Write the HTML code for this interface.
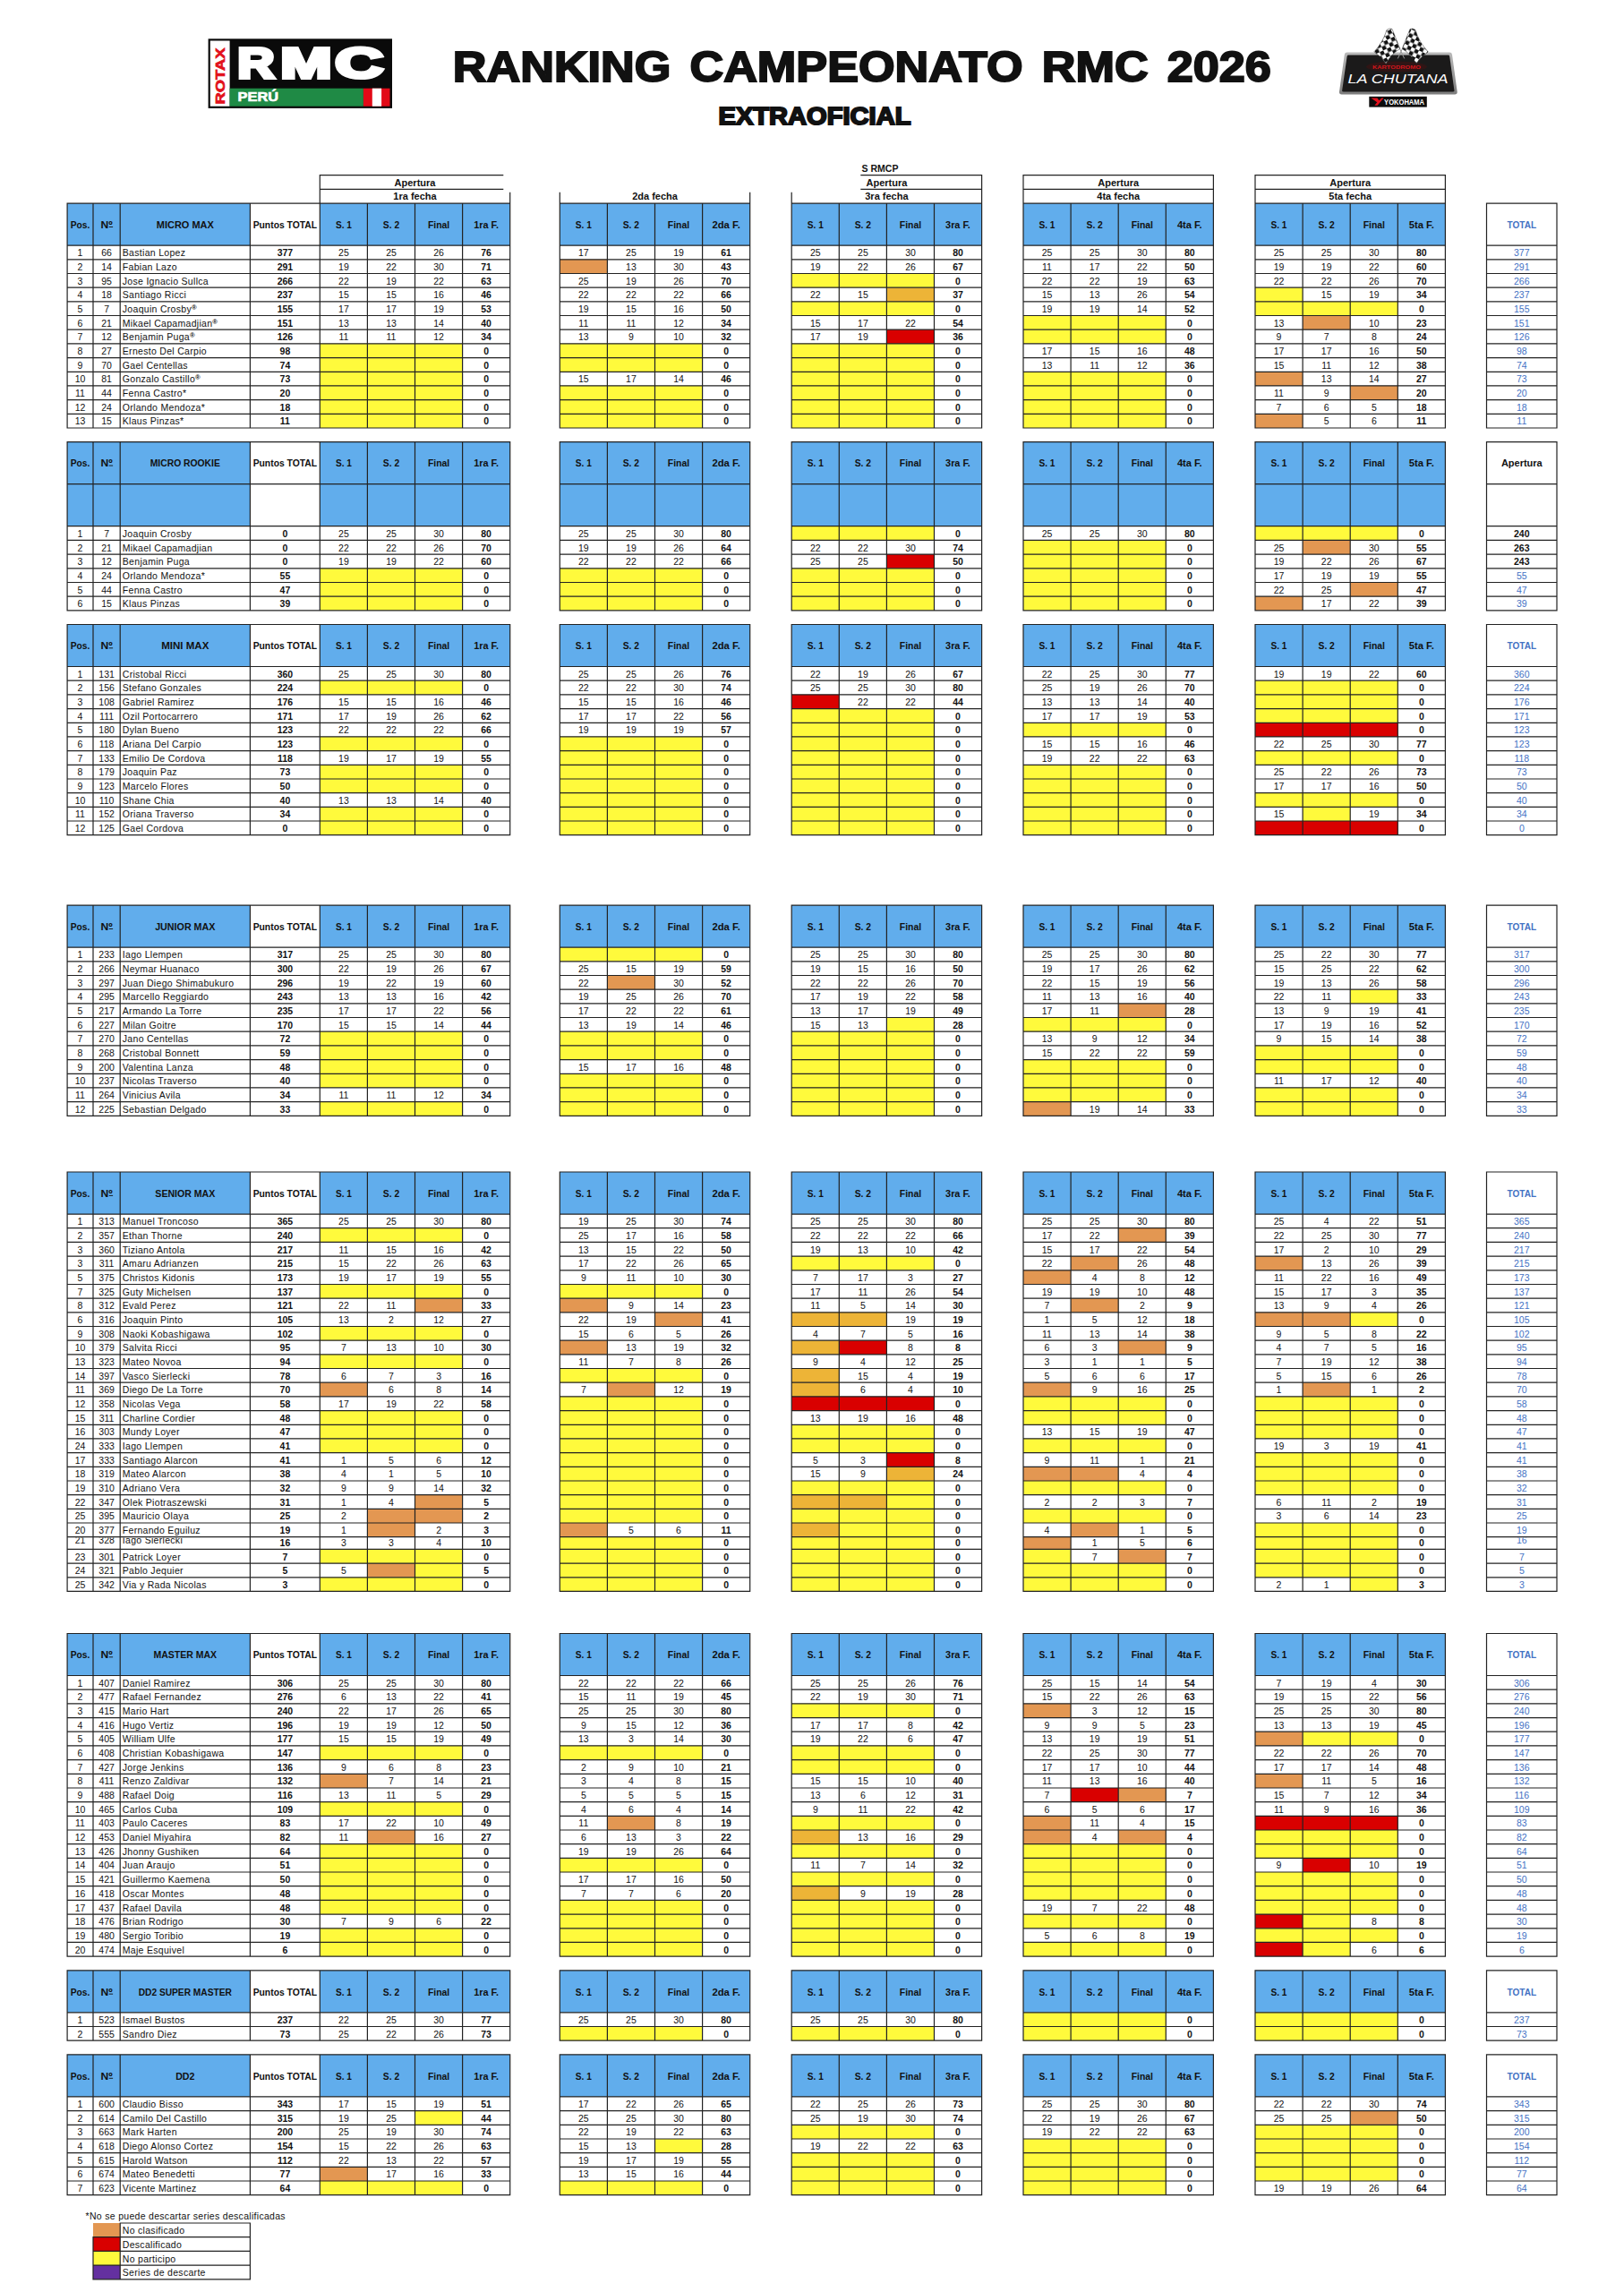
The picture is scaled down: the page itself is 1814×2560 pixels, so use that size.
<!DOCTYPE html>
<html lang="es"><head><meta charset="utf-8"><title>Ranking Campeonato RMC 2026</title>
<style>
html,body{margin:0;padding:0;background:#fff}
svg{display:block;font-family:"Liberation Sans",sans-serif}
text{font-size:10.5px;text-anchor:middle;fill:#111}
.nl text,.nlc text,.lbl text{text-anchor:start}
.nl text,.nlc text{letter-spacing:.3px}
.b text,.hb text,.hu text,.ht text,.lb text,.lbl text{font-weight:bold}
.hu text{font-size:10.8px}
.hb text,.ht text{font-size:11px}
.lb text{font-size:11px}
.lbl text{font-size:10.5px}
.t text,.tc text,.ht text{fill:#4472c4}
text.rmc{font-size:47.4px;font-weight:bold;fill:#fff;stroke:#fff;stroke-width:4px}
.rg{font-size:7.6px;font-weight:bold;letter-spacing:0}
</style></head>
<body>
<svg width="1814" height="2560" viewBox="0 0 1814 2560">
<defs><clipPath id="cs"><rect x="0" y="1717.4" width="1814" height="13.7"/></clipPath></defs>
<g id="title">
<text x="962.8" y="90.9" style="font-size:47.6px;font-weight:bold;stroke:#111;stroke-width:2px;word-spacing:6px" textLength="914" lengthAdjust="spacingAndGlyphs">RANKING CAMPEONATO RMC 2026</text>
<text x="910" y="139.2" style="font-size:27.2px;font-weight:bold;stroke:#111;stroke-width:2px" textLength="215" lengthAdjust="spacingAndGlyphs">EXTRAOFICIAL</text>
</g>
<g id="logo-rmc">
<rect x="232.6" y="43.3" width="205.4" height="77.6" fill="#0a0a0a"/>
<rect x="234.8" y="45.5" width="21.8" height="73.2" fill="#fff"/>
<rect x="256.6" y="98.7" width="149.3" height="20" fill="#1f8a45"/>
<rect x="405.9" y="98.7" width="29.6" height="20" fill="#e20a17"/>
<rect x="415.8" y="98.7" width="10.3" height="20" fill="#fff"/>
<text class="rmc" y="87.1"><tspan x="286" textLength="41.4" lengthAdjust="spacingAndGlyphs">R</tspan><tspan x="342" textLength="57.3" lengthAdjust="spacingAndGlyphs">M</tspan><tspan x="401.1" textLength="53.9" lengthAdjust="spacingAndGlyphs">C</tspan></text>
<text x="288.3" y="113.3" style="font-size:14.2px;font-weight:bold;fill:#fff;stroke:#fff;stroke-width:.6px" textLength="45.4" lengthAdjust="spacingAndGlyphs">PERÚ</text>
<text transform="translate(251.3 85) rotate(-90)" x="0" y="0" style="font-size:14.8px;font-weight:bold;fill:#e2101c;stroke:#e2101c;stroke-width:.7px" textLength="63" lengthAdjust="spacingAndGlyphs">ROTAX</text>
</g>
<g id="logo-chutana">
<defs>
<pattern id="chk" width="8.8" height="8.8" patternUnits="userSpaceOnUse" patternTransform="translate(1553.4 32.9) rotate(64.6)"><rect width="8.8" height="8.8" fill="#fff"/><rect width="4.4" height="4.4" fill="#111"/><rect x="4.4" y="4.4" width="4.4" height="4.4" fill="#111"/></pattern>
<pattern id="chk2" width="8.8" height="8.8" patternUnits="userSpaceOnUse" patternTransform="translate(1576.6 32.9) rotate(-64.6)"><rect width="8.8" height="8.8" fill="#fff"/><rect width="4.4" height="4.4" fill="#111"/><rect x="4.4" y="4.4" width="4.4" height="4.4" fill="#111"/></pattern>
<linearGradient id="plt" x1="0" y1="0" x2="0" y2="1"><stop offset="0" stop-color="#b9b9b9"/><stop offset="1" stop-color="#7d7d7d"/></linearGradient>
</defs>
<path d="M1504.6 58.6H1619.2Q1621.6 58.6 1622 61L1627.7 102.4Q1628 105.4 1625 105.4H1498.6Q1495.6 105.4 1496 102.4L1501.8 61Q1502.2 58.6 1504.6 58.6Z" fill="url(#plt)"/>
<path d="M1506.2 61.6H1617.6Q1619 61.6 1619.2 63L1624.4 100.8Q1624.6 102.6 1622.8 102.6H1500.8Q1499 102.6 1499.2 100.8L1504.6 63Q1504.8 61.6 1506.2 61.6Z" fill="#1b1a1a"/>
<ellipse cx="1560" cy="74.5" rx="34" ry="6" fill="#5a0d0d" opacity=".35"/>
<text x="1560" y="76.8" style="font-size:6.2px;font-weight:bold;fill:#d3161c" textLength="54" lengthAdjust="spacingAndGlyphs">KARTODROMO</text>
<text x="1561.5" y="93" style="font-size:13.8px;font-style:italic;fill:#fff" textLength="112" lengthAdjust="spacingAndGlyphs">LA CHUTANA</text>
<path d="M1553.4 32.9L1568.7 65.4M1576.6 32.9L1561.3 65.4" stroke="#9a9a9a" stroke-width="1" fill="none"/>
<path d="M1549 33.4Q1552 31 1555 32.4L1563.8 54.4Q1554 60 1548 71.3Q1543 63 1534.8 58Q1545 47 1549 33.4Z" fill="url(#chk)" stroke="#333" stroke-width=".5"/>
<path d="M1581 33.4Q1578 31 1575 32.4L1566.2 54.4Q1576 60 1582 71.3Q1587 63 1595.2 58Q1585 47 1581 33.4Z" fill="url(#chk2)" stroke="#333" stroke-width=".5"/>
<rect x="1529.3" y="107.8" width="64.5" height="11.8" fill="#0c0c0c"/>
<path d="M1531.4 109.6H1538.4L1540.4 112.2L1543.2 109.6H1545.6L1538.6 117.8H1535.4L1538.2 114.2Z" fill="#e2101c"/>
<text x="1568.6" y="117" style="font-size:9.4px;font-weight:bold;fill:#fff" textLength="45" lengthAdjust="spacingAndGlyphs">YOKOHAMA</text>
</g>
<g>
<rect x="75.1" y="227.1" width="204.3" height="47" fill="#61adec"/>
<rect x="357.3" y="227.1" width="212.4" height="47" fill="#61adec"/>
<rect x="625.3" y="227.1" width="212.4" height="47" fill="#61adec"/>
<rect x="884.2" y="227.1" width="212.4" height="47" fill="#61adec"/>
<rect x="1143" y="227.1" width="212.4" height="47" fill="#61adec"/>
<rect x="1402" y="227.1" width="212.4" height="47" fill="#61adec"/>
<rect x="121.7" y="253" width="4.4" height="0.9" fill="#111"/>
<rect x="625.3" y="289.8" width="53.1" height="15.7" fill="#e39752"/>
<rect x="884.2" y="305.5" width="159.3" height="15.7" fill="#fffa3c"/>
<rect x="990.4" y="321.2" width="53.1" height="15.7" fill="#edb437"/>
<rect x="1402" y="321.2" width="53.1" height="15.7" fill="#fffa3c"/>
<rect x="884.2" y="336.9" width="159.3" height="15.7" fill="#fffa3c"/>
<rect x="1402" y="336.9" width="159.3" height="15.7" fill="#fffa3c"/>
<rect x="1143" y="352.5" width="159.3" height="15.7" fill="#fffa3c"/>
<rect x="1455.1" y="352.5" width="53.1" height="15.7" fill="#e39752"/>
<rect x="990.4" y="368.2" width="53.1" height="15.7" fill="#d90000"/>
<rect x="1143" y="368.2" width="159.3" height="15.7" fill="#fffa3c"/>
<rect x="357.3" y="383.9" width="159.3" height="15.7" fill="#fffa3c"/>
<rect x="625.3" y="383.9" width="159.3" height="15.7" fill="#fffa3c"/>
<rect x="884.2" y="383.9" width="159.3" height="15.7" fill="#fffa3c"/>
<rect x="357.3" y="399.6" width="159.3" height="15.7" fill="#fffa3c"/>
<rect x="625.3" y="399.6" width="159.3" height="15.7" fill="#fffa3c"/>
<rect x="884.2" y="399.6" width="159.3" height="15.7" fill="#fffa3c"/>
<rect x="357.3" y="415.3" width="159.3" height="15.7" fill="#fffa3c"/>
<rect x="884.2" y="415.3" width="159.3" height="15.7" fill="#fffa3c"/>
<rect x="1143" y="415.3" width="159.3" height="15.7" fill="#fffa3c"/>
<rect x="1402" y="415.3" width="53.1" height="15.7" fill="#e39752"/>
<rect x="357.3" y="430.9" width="159.3" height="15.7" fill="#fffa3c"/>
<rect x="625.3" y="430.9" width="159.3" height="15.7" fill="#fffa3c"/>
<rect x="884.2" y="430.9" width="159.3" height="15.7" fill="#fffa3c"/>
<rect x="1143" y="430.9" width="159.3" height="15.7" fill="#fffa3c"/>
<rect x="1508.2" y="430.9" width="53.1" height="15.7" fill="#e39752"/>
<rect x="357.3" y="446.6" width="159.3" height="15.7" fill="#fffa3c"/>
<rect x="625.3" y="446.6" width="159.3" height="15.7" fill="#fffa3c"/>
<rect x="884.2" y="446.6" width="159.3" height="15.7" fill="#fffa3c"/>
<rect x="1143" y="446.6" width="159.3" height="15.7" fill="#fffa3c"/>
<rect x="357.3" y="462.3" width="159.3" height="15.7" fill="#fffa3c"/>
<rect x="625.3" y="462.3" width="159.3" height="15.7" fill="#fffa3c"/>
<rect x="884.2" y="462.3" width="159.3" height="15.7" fill="#fffa3c"/>
<rect x="1143" y="462.3" width="159.3" height="15.7" fill="#fffa3c"/>
<rect x="1402" y="462.3" width="53.1" height="15.7" fill="#e39752"/>
<rect x="75.1" y="493.7" width="204.3" height="94.1" fill="#61adec"/>
<rect x="357.3" y="493.7" width="212.4" height="94.1" fill="#61adec"/>
<rect x="625.3" y="493.7" width="212.4" height="94.1" fill="#61adec"/>
<rect x="884.2" y="493.7" width="212.4" height="94.1" fill="#61adec"/>
<rect x="1143" y="493.7" width="212.4" height="94.1" fill="#61adec"/>
<rect x="1402" y="493.7" width="212.4" height="94.1" fill="#61adec"/>
<rect x="121.7" y="519.6" width="4.4" height="0.9" fill="#111"/>
<rect x="884.2" y="587.7" width="159.3" height="15.7" fill="#fffa3c"/>
<rect x="1402" y="587.7" width="159.3" height="15.7" fill="#fffa3c"/>
<rect x="1143" y="603.4" width="159.3" height="15.7" fill="#fffa3c"/>
<rect x="1455.1" y="603.4" width="53.1" height="15.7" fill="#e39752"/>
<rect x="990.4" y="619.1" width="53.1" height="15.7" fill="#d90000"/>
<rect x="1143" y="619.1" width="159.3" height="15.7" fill="#fffa3c"/>
<rect x="357.3" y="634.8" width="159.3" height="15.7" fill="#fffa3c"/>
<rect x="625.3" y="634.8" width="159.3" height="15.7" fill="#fffa3c"/>
<rect x="884.2" y="634.8" width="159.3" height="15.7" fill="#fffa3c"/>
<rect x="1143" y="634.8" width="159.3" height="15.7" fill="#fffa3c"/>
<rect x="357.3" y="650.5" width="159.3" height="15.7" fill="#fffa3c"/>
<rect x="625.3" y="650.5" width="159.3" height="15.7" fill="#fffa3c"/>
<rect x="884.2" y="650.5" width="159.3" height="15.7" fill="#fffa3c"/>
<rect x="1143" y="650.5" width="159.3" height="15.7" fill="#fffa3c"/>
<rect x="1508.2" y="650.5" width="53.1" height="15.7" fill="#e39752"/>
<rect x="357.3" y="666.1" width="159.3" height="15.7" fill="#fffa3c"/>
<rect x="625.3" y="666.1" width="159.3" height="15.7" fill="#fffa3c"/>
<rect x="884.2" y="666.1" width="159.3" height="15.7" fill="#fffa3c"/>
<rect x="1143" y="666.1" width="159.3" height="15.7" fill="#fffa3c"/>
<rect x="1402" y="666.1" width="53.1" height="15.7" fill="#e39752"/>
<rect x="75.1" y="697.5" width="204.3" height="47" fill="#61adec"/>
<rect x="357.3" y="697.5" width="212.4" height="47" fill="#61adec"/>
<rect x="625.3" y="697.5" width="212.4" height="47" fill="#61adec"/>
<rect x="884.2" y="697.5" width="212.4" height="47" fill="#61adec"/>
<rect x="1143" y="697.5" width="212.4" height="47" fill="#61adec"/>
<rect x="1402" y="697.5" width="212.4" height="47" fill="#61adec"/>
<rect x="121.7" y="723.4" width="4.4" height="0.9" fill="#111"/>
<rect x="357.3" y="760.2" width="159.3" height="15.7" fill="#fffa3c"/>
<rect x="1402" y="760.2" width="159.3" height="15.7" fill="#fffa3c"/>
<rect x="884.2" y="775.9" width="53.1" height="15.7" fill="#d90000"/>
<rect x="1402" y="775.9" width="159.3" height="15.7" fill="#fffa3c"/>
<rect x="884.2" y="791.6" width="159.3" height="15.7" fill="#fffa3c"/>
<rect x="1402" y="791.6" width="159.3" height="15.7" fill="#fffa3c"/>
<rect x="884.2" y="807.3" width="159.3" height="15.7" fill="#fffa3c"/>
<rect x="1143" y="807.3" width="159.3" height="15.7" fill="#fffa3c"/>
<rect x="1402" y="807.3" width="159.3" height="15.7" fill="#d90000"/>
<rect x="357.3" y="822.9" width="159.3" height="15.7" fill="#fffa3c"/>
<rect x="625.3" y="822.9" width="159.3" height="15.7" fill="#fffa3c"/>
<rect x="884.2" y="822.9" width="159.3" height="15.7" fill="#fffa3c"/>
<rect x="625.3" y="838.6" width="159.3" height="15.7" fill="#fffa3c"/>
<rect x="884.2" y="838.6" width="159.3" height="15.7" fill="#fffa3c"/>
<rect x="1402" y="838.6" width="159.3" height="15.7" fill="#fffa3c"/>
<rect x="357.3" y="854.3" width="159.3" height="15.7" fill="#fffa3c"/>
<rect x="625.3" y="854.3" width="159.3" height="15.7" fill="#fffa3c"/>
<rect x="884.2" y="854.3" width="159.3" height="15.7" fill="#fffa3c"/>
<rect x="1143" y="854.3" width="159.3" height="15.7" fill="#fffa3c"/>
<rect x="357.3" y="870" width="159.3" height="15.7" fill="#fffa3c"/>
<rect x="625.3" y="870" width="159.3" height="15.7" fill="#fffa3c"/>
<rect x="884.2" y="870" width="159.3" height="15.7" fill="#fffa3c"/>
<rect x="1143" y="870" width="159.3" height="15.7" fill="#fffa3c"/>
<rect x="625.3" y="885.7" width="159.3" height="15.7" fill="#fffa3c"/>
<rect x="884.2" y="885.7" width="159.3" height="15.7" fill="#fffa3c"/>
<rect x="1143" y="885.7" width="159.3" height="15.7" fill="#fffa3c"/>
<rect x="1402" y="885.7" width="159.3" height="15.7" fill="#fffa3c"/>
<rect x="357.3" y="901.3" width="159.3" height="15.7" fill="#fffa3c"/>
<rect x="625.3" y="901.3" width="159.3" height="15.7" fill="#fffa3c"/>
<rect x="884.2" y="901.3" width="159.3" height="15.7" fill="#fffa3c"/>
<rect x="1143" y="901.3" width="159.3" height="15.7" fill="#fffa3c"/>
<rect x="1455.1" y="901.3" width="53.1" height="15.7" fill="#fffa3c"/>
<rect x="357.3" y="917" width="159.3" height="15.7" fill="#fffa3c"/>
<rect x="625.3" y="917" width="159.3" height="15.7" fill="#fffa3c"/>
<rect x="884.2" y="917" width="159.3" height="15.7" fill="#fffa3c"/>
<rect x="1143" y="917" width="159.3" height="15.7" fill="#fffa3c"/>
<rect x="1402" y="917" width="159.3" height="15.7" fill="#d90000"/>
<rect x="75.1" y="1011.1" width="204.3" height="47" fill="#61adec"/>
<rect x="357.3" y="1011.1" width="212.4" height="47" fill="#61adec"/>
<rect x="625.3" y="1011.1" width="212.4" height="47" fill="#61adec"/>
<rect x="884.2" y="1011.1" width="212.4" height="47" fill="#61adec"/>
<rect x="1143" y="1011.1" width="212.4" height="47" fill="#61adec"/>
<rect x="1402" y="1011.1" width="212.4" height="47" fill="#61adec"/>
<rect x="121.7" y="1037" width="4.4" height="0.9" fill="#111"/>
<rect x="625.3" y="1058.1" width="159.3" height="15.7" fill="#fffa3c"/>
<rect x="678.4" y="1089.5" width="53.1" height="15.7" fill="#e39752"/>
<rect x="1508.2" y="1105.2" width="53.1" height="15.7" fill="#fffa3c"/>
<rect x="1249.2" y="1120.9" width="53.1" height="15.7" fill="#e39752"/>
<rect x="990.4" y="1136.5" width="53.1" height="15.7" fill="#fffa3c"/>
<rect x="1143" y="1136.5" width="159.3" height="15.7" fill="#fffa3c"/>
<rect x="357.3" y="1152.2" width="159.3" height="15.7" fill="#fffa3c"/>
<rect x="625.3" y="1152.2" width="159.3" height="15.7" fill="#fffa3c"/>
<rect x="884.2" y="1152.2" width="159.3" height="15.7" fill="#fffa3c"/>
<rect x="357.3" y="1167.9" width="159.3" height="15.7" fill="#fffa3c"/>
<rect x="625.3" y="1167.9" width="159.3" height="15.7" fill="#fffa3c"/>
<rect x="884.2" y="1167.9" width="159.3" height="15.7" fill="#fffa3c"/>
<rect x="1402" y="1167.9" width="159.3" height="15.7" fill="#fffa3c"/>
<rect x="357.3" y="1183.6" width="159.3" height="15.7" fill="#fffa3c"/>
<rect x="884.2" y="1183.6" width="159.3" height="15.7" fill="#fffa3c"/>
<rect x="1143" y="1183.6" width="159.3" height="15.7" fill="#fffa3c"/>
<rect x="1402" y="1183.6" width="159.3" height="15.7" fill="#fffa3c"/>
<rect x="357.3" y="1199.3" width="159.3" height="15.7" fill="#fffa3c"/>
<rect x="625.3" y="1199.3" width="159.3" height="15.7" fill="#fffa3c"/>
<rect x="884.2" y="1199.3" width="159.3" height="15.7" fill="#fffa3c"/>
<rect x="1143" y="1199.3" width="159.3" height="15.7" fill="#fffa3c"/>
<rect x="625.3" y="1214.9" width="159.3" height="15.7" fill="#fffa3c"/>
<rect x="884.2" y="1214.9" width="159.3" height="15.7" fill="#fffa3c"/>
<rect x="1143" y="1214.9" width="159.3" height="15.7" fill="#fffa3c"/>
<rect x="1402" y="1214.9" width="159.3" height="15.7" fill="#fffa3c"/>
<rect x="357.3" y="1230.6" width="159.3" height="15.7" fill="#fffa3c"/>
<rect x="625.3" y="1230.6" width="159.3" height="15.7" fill="#fffa3c"/>
<rect x="884.2" y="1230.6" width="159.3" height="15.7" fill="#fffa3c"/>
<rect x="1143" y="1230.6" width="53.1" height="15.7" fill="#e39752"/>
<rect x="1402" y="1230.6" width="159.3" height="15.7" fill="#fffa3c"/>
<rect x="75.1" y="1309" width="204.3" height="47" fill="#61adec"/>
<rect x="357.3" y="1309" width="212.4" height="47" fill="#61adec"/>
<rect x="625.3" y="1309" width="212.4" height="47" fill="#61adec"/>
<rect x="884.2" y="1309" width="212.4" height="47" fill="#61adec"/>
<rect x="1143" y="1309" width="212.4" height="47" fill="#61adec"/>
<rect x="1402" y="1309" width="212.4" height="47" fill="#61adec"/>
<rect x="121.7" y="1334.9" width="4.4" height="0.9" fill="#111"/>
<rect x="357.3" y="1371.7" width="159.3" height="15.7" fill="#fffa3c"/>
<rect x="1249.2" y="1371.7" width="53.1" height="15.7" fill="#e39752"/>
<rect x="884.2" y="1403.1" width="159.3" height="15.7" fill="#fffa3c"/>
<rect x="1196.1" y="1403.1" width="53.1" height="15.7" fill="#e39752"/>
<rect x="1402" y="1403.1" width="53.1" height="15.7" fill="#e39752"/>
<rect x="1143" y="1418.8" width="53.1" height="15.7" fill="#e39752"/>
<rect x="357.3" y="1434.5" width="159.3" height="15.7" fill="#fffa3c"/>
<rect x="625.3" y="1434.5" width="159.3" height="15.7" fill="#fffa3c"/>
<rect x="463.5" y="1450.1" width="53.1" height="15.7" fill="#e39752"/>
<rect x="625.3" y="1450.1" width="53.1" height="15.7" fill="#e39752"/>
<rect x="1196.1" y="1450.1" width="53.1" height="15.7" fill="#e39752"/>
<rect x="731.5" y="1465.8" width="53.1" height="15.7" fill="#e39752"/>
<rect x="884.2" y="1465.8" width="106.2" height="15.7" fill="#edb437"/>
<rect x="1402" y="1465.8" width="106.2" height="15.7" fill="#e39752"/>
<rect x="1508.2" y="1465.8" width="53.1" height="15.7" fill="#fffa3c"/>
<rect x="357.3" y="1481.5" width="159.3" height="15.7" fill="#fffa3c"/>
<rect x="625.3" y="1497.2" width="53.1" height="15.7" fill="#e39752"/>
<rect x="884.2" y="1497.2" width="53.1" height="15.7" fill="#edb437"/>
<rect x="937.3" y="1497.2" width="53.1" height="15.7" fill="#d90000"/>
<rect x="1249.2" y="1497.2" width="53.1" height="15.7" fill="#e39752"/>
<rect x="357.3" y="1512.9" width="159.3" height="15.7" fill="#fffa3c"/>
<rect x="625.3" y="1528.5" width="159.3" height="15.7" fill="#fffa3c"/>
<rect x="884.2" y="1528.5" width="53.1" height="15.7" fill="#edb437"/>
<rect x="357.3" y="1544.2" width="53.1" height="15.7" fill="#e39752"/>
<rect x="678.4" y="1544.2" width="53.1" height="15.7" fill="#e39752"/>
<rect x="884.2" y="1544.2" width="53.1" height="15.7" fill="#edb437"/>
<rect x="1143" y="1544.2" width="53.1" height="15.7" fill="#e39752"/>
<rect x="1455.1" y="1544.2" width="53.1" height="15.7" fill="#e39752"/>
<rect x="625.3" y="1559.9" width="159.3" height="15.7" fill="#fffa3c"/>
<rect x="884.2" y="1559.9" width="159.3" height="15.7" fill="#d90000"/>
<rect x="1143" y="1559.9" width="159.3" height="15.7" fill="#fffa3c"/>
<rect x="1402" y="1559.9" width="159.3" height="15.7" fill="#fffa3c"/>
<rect x="357.3" y="1575.6" width="159.3" height="15.7" fill="#fffa3c"/>
<rect x="625.3" y="1575.6" width="159.3" height="15.7" fill="#fffa3c"/>
<rect x="1143" y="1575.6" width="159.3" height="15.7" fill="#fffa3c"/>
<rect x="1402" y="1575.6" width="159.3" height="15.7" fill="#fffa3c"/>
<rect x="357.3" y="1591.3" width="159.3" height="15.7" fill="#fffa3c"/>
<rect x="625.3" y="1591.3" width="159.3" height="15.7" fill="#fffa3c"/>
<rect x="884.2" y="1591.3" width="159.3" height="15.7" fill="#fffa3c"/>
<rect x="1402" y="1591.3" width="159.3" height="15.7" fill="#fffa3c"/>
<rect x="357.3" y="1606.9" width="159.3" height="15.7" fill="#fffa3c"/>
<rect x="625.3" y="1606.9" width="159.3" height="15.7" fill="#fffa3c"/>
<rect x="884.2" y="1606.9" width="159.3" height="15.7" fill="#fffa3c"/>
<rect x="1143" y="1606.9" width="159.3" height="15.7" fill="#fffa3c"/>
<rect x="625.3" y="1622.6" width="159.3" height="15.7" fill="#fffa3c"/>
<rect x="990.4" y="1622.6" width="53.1" height="15.7" fill="#d90000"/>
<rect x="1402" y="1622.6" width="159.3" height="15.7" fill="#fffa3c"/>
<rect x="625.3" y="1638.3" width="159.3" height="15.7" fill="#fffa3c"/>
<rect x="990.4" y="1638.3" width="53.1" height="15.7" fill="#edb437"/>
<rect x="1143" y="1638.3" width="106.2" height="15.7" fill="#e39752"/>
<rect x="1402" y="1638.3" width="159.3" height="15.7" fill="#fffa3c"/>
<rect x="625.3" y="1654" width="159.3" height="15.7" fill="#fffa3c"/>
<rect x="884.2" y="1654" width="159.3" height="15.7" fill="#fffa3c"/>
<rect x="1143" y="1654" width="159.3" height="15.7" fill="#fffa3c"/>
<rect x="1402" y="1654" width="159.3" height="15.7" fill="#fffa3c"/>
<rect x="463.5" y="1669.7" width="53.1" height="15.7" fill="#e39752"/>
<rect x="625.3" y="1669.7" width="159.3" height="15.7" fill="#fffa3c"/>
<rect x="884.2" y="1669.7" width="106.2" height="15.7" fill="#edb437"/>
<rect x="990.4" y="1669.7" width="53.1" height="15.7" fill="#fffa3c"/>
<rect x="410.4" y="1685.3" width="106.2" height="15.7" fill="#e39752"/>
<rect x="625.3" y="1685.3" width="159.3" height="15.7" fill="#fffa3c"/>
<rect x="884.2" y="1685.3" width="159.3" height="15.7" fill="#fffa3c"/>
<rect x="1143" y="1685.3" width="159.3" height="15.7" fill="#fffa3c"/>
<rect x="410.4" y="1701" width="53.1" height="15.7" fill="#e39752"/>
<rect x="625.3" y="1701" width="53.1" height="15.7" fill="#e39752"/>
<rect x="884.2" y="1701" width="53.1" height="15.7" fill="#edb437"/>
<rect x="937.3" y="1701" width="106.2" height="15.7" fill="#fffa3c"/>
<rect x="1196.1" y="1701" width="53.1" height="15.7" fill="#e39752"/>
<rect x="1402" y="1701" width="159.3" height="15.7" fill="#fffa3c"/>
<rect x="625.3" y="1716.7" width="159.3" height="13.7" fill="#fffa3c"/>
<rect x="884.2" y="1716.7" width="159.3" height="13.7" fill="#fffa3c"/>
<rect x="1143" y="1716.7" width="53.1" height="13.7" fill="#e39752"/>
<rect x="1402" y="1716.7" width="159.3" height="13.7" fill="#fffa3c"/>
<rect x="357.3" y="1730.4" width="159.3" height="15.7" fill="#fffa3c"/>
<rect x="625.3" y="1730.4" width="159.3" height="15.7" fill="#fffa3c"/>
<rect x="884.2" y="1730.4" width="159.3" height="15.7" fill="#fffa3c"/>
<rect x="1143" y="1730.4" width="53.1" height="15.7" fill="#fffa3c"/>
<rect x="1249.2" y="1730.4" width="53.1" height="15.7" fill="#e39752"/>
<rect x="1402" y="1730.4" width="159.3" height="15.7" fill="#fffa3c"/>
<rect x="410.4" y="1746.1" width="53.1" height="15.7" fill="#e39752"/>
<rect x="463.5" y="1746.1" width="53.1" height="15.7" fill="#fffa3c"/>
<rect x="625.3" y="1746.1" width="159.3" height="15.7" fill="#fffa3c"/>
<rect x="884.2" y="1746.1" width="159.3" height="15.7" fill="#fffa3c"/>
<rect x="1143" y="1746.1" width="159.3" height="15.7" fill="#fffa3c"/>
<rect x="1402" y="1746.1" width="159.3" height="15.7" fill="#fffa3c"/>
<rect x="357.3" y="1761.8" width="159.3" height="15.7" fill="#fffa3c"/>
<rect x="625.3" y="1761.8" width="159.3" height="15.7" fill="#fffa3c"/>
<rect x="884.2" y="1761.8" width="159.3" height="15.7" fill="#fffa3c"/>
<rect x="1143" y="1761.8" width="159.3" height="15.7" fill="#fffa3c"/>
<rect x="1508.2" y="1761.8" width="53.1" height="15.7" fill="#fffa3c"/>
<rect x="75.1" y="1824.5" width="204.3" height="47" fill="#61adec"/>
<rect x="357.3" y="1824.5" width="212.4" height="47" fill="#61adec"/>
<rect x="625.3" y="1824.5" width="212.4" height="47" fill="#61adec"/>
<rect x="884.2" y="1824.5" width="212.4" height="47" fill="#61adec"/>
<rect x="1143" y="1824.5" width="212.4" height="47" fill="#61adec"/>
<rect x="1402" y="1824.5" width="212.4" height="47" fill="#61adec"/>
<rect x="121.7" y="1850.4" width="4.4" height="0.9" fill="#111"/>
<rect x="884.2" y="1902.9" width="159.3" height="15.7" fill="#fffa3c"/>
<rect x="1143" y="1902.9" width="53.1" height="15.7" fill="#e39752"/>
<rect x="1402" y="1934.2" width="53.1" height="15.7" fill="#e39752"/>
<rect x="1455.1" y="1934.2" width="106.2" height="15.7" fill="#fffa3c"/>
<rect x="357.3" y="1949.9" width="159.3" height="15.7" fill="#fffa3c"/>
<rect x="625.3" y="1949.9" width="159.3" height="15.7" fill="#fffa3c"/>
<rect x="884.2" y="1949.9" width="159.3" height="15.7" fill="#fffa3c"/>
<rect x="884.2" y="1965.6" width="159.3" height="15.7" fill="#fffa3c"/>
<rect x="357.3" y="1981.3" width="53.1" height="15.7" fill="#e39752"/>
<rect x="1402" y="1981.3" width="53.1" height="15.7" fill="#e39752"/>
<rect x="1196.1" y="1997" width="53.1" height="15.7" fill="#d90000"/>
<rect x="1249.2" y="1997" width="53.1" height="15.7" fill="#e39752"/>
<rect x="357.3" y="2012.6" width="159.3" height="15.7" fill="#fffa3c"/>
<rect x="678.4" y="2028.3" width="53.1" height="15.7" fill="#e39752"/>
<rect x="884.2" y="2028.3" width="159.3" height="15.7" fill="#fffa3c"/>
<rect x="1143" y="2028.3" width="53.1" height="15.7" fill="#e39752"/>
<rect x="1402" y="2028.3" width="159.3" height="15.7" fill="#d90000"/>
<rect x="410.4" y="2044" width="53.1" height="15.7" fill="#e39752"/>
<rect x="884.2" y="2044" width="53.1" height="15.7" fill="#edb437"/>
<rect x="1143" y="2044" width="53.1" height="15.7" fill="#e39752"/>
<rect x="1249.2" y="2044" width="53.1" height="15.7" fill="#e39752"/>
<rect x="1402" y="2044" width="159.3" height="15.7" fill="#fffa3c"/>
<rect x="357.3" y="2059.7" width="159.3" height="15.7" fill="#fffa3c"/>
<rect x="884.2" y="2059.7" width="159.3" height="15.7" fill="#fffa3c"/>
<rect x="1143" y="2059.7" width="159.3" height="15.7" fill="#fffa3c"/>
<rect x="1402" y="2059.7" width="159.3" height="15.7" fill="#fffa3c"/>
<rect x="357.3" y="2075.4" width="159.3" height="15.7" fill="#fffa3c"/>
<rect x="625.3" y="2075.4" width="159.3" height="15.7" fill="#fffa3c"/>
<rect x="1143" y="2075.4" width="159.3" height="15.7" fill="#fffa3c"/>
<rect x="1455.1" y="2075.4" width="53.1" height="15.7" fill="#d90000"/>
<rect x="357.3" y="2091" width="159.3" height="15.7" fill="#fffa3c"/>
<rect x="884.2" y="2091" width="159.3" height="15.7" fill="#fffa3c"/>
<rect x="1143" y="2091" width="159.3" height="15.7" fill="#fffa3c"/>
<rect x="1402" y="2091" width="159.3" height="15.7" fill="#fffa3c"/>
<rect x="357.3" y="2106.7" width="159.3" height="15.7" fill="#fffa3c"/>
<rect x="884.2" y="2106.7" width="53.1" height="15.7" fill="#edb437"/>
<rect x="1143" y="2106.7" width="159.3" height="15.7" fill="#fffa3c"/>
<rect x="1402" y="2106.7" width="159.3" height="15.7" fill="#fffa3c"/>
<rect x="357.3" y="2122.4" width="159.3" height="15.7" fill="#fffa3c"/>
<rect x="625.3" y="2122.4" width="159.3" height="15.7" fill="#fffa3c"/>
<rect x="884.2" y="2122.4" width="159.3" height="15.7" fill="#fffa3c"/>
<rect x="1402" y="2122.4" width="159.3" height="15.7" fill="#fffa3c"/>
<rect x="625.3" y="2138.1" width="159.3" height="15.7" fill="#fffa3c"/>
<rect x="884.2" y="2138.1" width="159.3" height="15.7" fill="#fffa3c"/>
<rect x="1143" y="2138.1" width="159.3" height="15.7" fill="#fffa3c"/>
<rect x="1402" y="2138.1" width="53.1" height="15.7" fill="#d90000"/>
<rect x="1455.1" y="2138.1" width="53.1" height="15.7" fill="#fffa3c"/>
<rect x="357.3" y="2153.8" width="159.3" height="15.7" fill="#fffa3c"/>
<rect x="625.3" y="2153.8" width="159.3" height="15.7" fill="#fffa3c"/>
<rect x="884.2" y="2153.8" width="159.3" height="15.7" fill="#fffa3c"/>
<rect x="1402" y="2153.8" width="159.3" height="15.7" fill="#fffa3c"/>
<rect x="357.3" y="2169.4" width="159.3" height="15.7" fill="#fffa3c"/>
<rect x="625.3" y="2169.4" width="159.3" height="15.7" fill="#fffa3c"/>
<rect x="884.2" y="2169.4" width="159.3" height="15.7" fill="#fffa3c"/>
<rect x="1143" y="2169.4" width="159.3" height="15.7" fill="#fffa3c"/>
<rect x="1402" y="2169.4" width="53.1" height="15.7" fill="#d90000"/>
<rect x="1455.1" y="2169.4" width="53.1" height="15.7" fill="#fffa3c"/>
<rect x="75.1" y="2200.8" width="204.3" height="47" fill="#61adec"/>
<rect x="357.3" y="2200.8" width="212.4" height="47" fill="#61adec"/>
<rect x="625.3" y="2200.8" width="212.4" height="47" fill="#61adec"/>
<rect x="884.2" y="2200.8" width="212.4" height="47" fill="#61adec"/>
<rect x="1143" y="2200.8" width="212.4" height="47" fill="#61adec"/>
<rect x="1402" y="2200.8" width="212.4" height="47" fill="#61adec"/>
<rect x="121.7" y="2226.7" width="4.4" height="0.9" fill="#111"/>
<rect x="1143" y="2247.8" width="159.3" height="15.7" fill="#fffa3c"/>
<rect x="1402" y="2247.8" width="159.3" height="15.7" fill="#fffa3c"/>
<rect x="625.3" y="2263.5" width="159.3" height="15.7" fill="#fffa3c"/>
<rect x="884.2" y="2263.5" width="159.3" height="15.7" fill="#fffa3c"/>
<rect x="1143" y="2263.5" width="159.3" height="15.7" fill="#fffa3c"/>
<rect x="1402" y="2263.5" width="159.3" height="15.7" fill="#fffa3c"/>
<rect x="75.1" y="2294.9" width="204.3" height="47" fill="#61adec"/>
<rect x="357.3" y="2294.9" width="212.4" height="47" fill="#61adec"/>
<rect x="625.3" y="2294.9" width="212.4" height="47" fill="#61adec"/>
<rect x="884.2" y="2294.9" width="212.4" height="47" fill="#61adec"/>
<rect x="1143" y="2294.9" width="212.4" height="47" fill="#61adec"/>
<rect x="1402" y="2294.9" width="212.4" height="47" fill="#61adec"/>
<rect x="121.7" y="2320.8" width="4.4" height="0.9" fill="#111"/>
<rect x="463.5" y="2357.6" width="53.1" height="15.7" fill="#fffa3c"/>
<rect x="1508.2" y="2357.6" width="53.1" height="15.7" fill="#e39752"/>
<rect x="884.2" y="2373.3" width="159.3" height="15.7" fill="#fffa3c"/>
<rect x="1402" y="2373.3" width="159.3" height="15.7" fill="#fffa3c"/>
<rect x="731.5" y="2389" width="53.1" height="15.7" fill="#fffa3c"/>
<rect x="1143" y="2389" width="159.3" height="15.7" fill="#fffa3c"/>
<rect x="1402" y="2389" width="159.3" height="15.7" fill="#fffa3c"/>
<rect x="884.2" y="2404.6" width="159.3" height="15.7" fill="#fffa3c"/>
<rect x="1143" y="2404.6" width="159.3" height="15.7" fill="#fffa3c"/>
<rect x="1402" y="2404.6" width="159.3" height="15.7" fill="#fffa3c"/>
<rect x="357.3" y="2420.3" width="53.1" height="15.7" fill="#e39752"/>
<rect x="884.2" y="2420.3" width="159.3" height="15.7" fill="#fffa3c"/>
<rect x="1143" y="2420.3" width="159.3" height="15.7" fill="#fffa3c"/>
<rect x="1402" y="2420.3" width="159.3" height="15.7" fill="#fffa3c"/>
<rect x="357.3" y="2436" width="159.3" height="15.7" fill="#fffa3c"/>
<rect x="625.3" y="2436" width="159.3" height="15.7" fill="#fffa3c"/>
<rect x="884.2" y="2436" width="159.3" height="15.7" fill="#fffa3c"/>
<rect x="1143" y="2436" width="159.3" height="15.7" fill="#fffa3c"/>
<rect x="104" y="2483" width="30.2" height="15.7" fill="#e39752"/>
<rect x="104" y="2498.7" width="30.2" height="15.7" fill="#d90000"/>
<rect x="104" y="2514.4" width="30.2" height="15.7" fill="#fffa3c"/>
<rect x="104" y="2530.1" width="30.2" height="15.7" fill="#6430a0"/>
</g>
<path fill="none" stroke="#222" stroke-width="1.2" d="M74.5 227.1H570.3M74.5 274.1H570.3M74.5 289.8H570.3M74.5 305.5H570.3M74.5 321.2H570.3M74.5 336.9H570.3M74.5 352.5H570.3M74.5 368.2H570.3M74.5 383.9H570.3M74.5 399.6H570.3M74.5 415.3H570.3M74.5 430.9H570.3M74.5 446.6H570.3M74.5 462.3H570.3M74.5 478H570.3M75.1 227.1V478M104 227.1V478M134.2 227.1V478M279.4 227.1V478M357.3 227.1V478M410.4 227.1V478M463.5 227.1V478M516.6 227.1V478M569.7 227.1V478M624.7 227.1H838.3M624.7 274.1H838.3M624.7 289.8H838.3M624.7 305.5H838.3M624.7 321.2H838.3M624.7 336.9H838.3M624.7 352.5H838.3M624.7 368.2H838.3M624.7 383.9H838.3M624.7 399.6H838.3M624.7 415.3H838.3M624.7 430.9H838.3M624.7 446.6H838.3M624.7 462.3H838.3M624.7 478H838.3M625.3 227.1V478M678.4 227.1V478M731.5 227.1V478M784.6 227.1V478M837.7 227.1V478M883.6 227.1H1097.2M883.6 274.1H1097.2M883.6 289.8H1097.2M883.6 305.5H1097.2M883.6 321.2H1097.2M883.6 336.9H1097.2M883.6 352.5H1097.2M883.6 368.2H1097.2M883.6 383.9H1097.2M883.6 399.6H1097.2M883.6 415.3H1097.2M883.6 430.9H1097.2M883.6 446.6H1097.2M883.6 462.3H1097.2M883.6 478H1097.2M884.2 227.1V478M937.3 227.1V478M990.4 227.1V478M1043.5 227.1V478M1096.6 227.1V478M1142.4 227.1H1356M1142.4 274.1H1356M1142.4 289.8H1356M1142.4 305.5H1356M1142.4 321.2H1356M1142.4 336.9H1356M1142.4 352.5H1356M1142.4 368.2H1356M1142.4 383.9H1356M1142.4 399.6H1356M1142.4 415.3H1356M1142.4 430.9H1356M1142.4 446.6H1356M1142.4 462.3H1356M1142.4 478H1356M1143 227.1V478M1196.1 227.1V478M1249.2 227.1V478M1302.3 227.1V478M1355.4 227.1V478M1401.4 227.1H1615M1401.4 274.1H1615M1401.4 289.8H1615M1401.4 305.5H1615M1401.4 321.2H1615M1401.4 336.9H1615M1401.4 352.5H1615M1401.4 368.2H1615M1401.4 383.9H1615M1401.4 399.6H1615M1401.4 415.3H1615M1401.4 430.9H1615M1401.4 446.6H1615M1401.4 462.3H1615M1401.4 478H1615M1402 227.1V478M1455.1 227.1V478M1508.2 227.1V478M1561.3 227.1V478M1614.4 227.1V478M1659.9 227.1H1739.6M1659.9 274.1H1739.6M1659.9 289.8H1739.6M1659.9 305.5H1739.6M1659.9 321.2H1739.6M1659.9 336.9H1739.6M1659.9 352.5H1739.6M1659.9 368.2H1739.6M1659.9 383.9H1739.6M1659.9 399.6H1739.6M1659.9 415.3H1739.6M1659.9 430.9H1739.6M1659.9 446.6H1739.6M1659.9 462.3H1739.6M1659.9 478H1739.6M1660.5 227.1V478M1739 227.1V478M74.5 493.7H570.3M74.5 540.7H570.3M74.5 587.7H570.3M74.5 603.4H570.3M74.5 619.1H570.3M74.5 634.8H570.3M74.5 650.5H570.3M74.5 666.1H570.3M74.5 681.8H570.3M75.1 493.7V681.8M104 493.7V681.8M134.2 493.7V681.8M279.4 493.7V681.8M357.3 493.7V681.8M410.4 493.7V681.8M463.5 493.7V681.8M516.6 493.7V681.8M569.7 493.7V681.8M624.7 493.7H838.3M624.7 540.7H838.3M624.7 587.7H838.3M624.7 603.4H838.3M624.7 619.1H838.3M624.7 634.8H838.3M624.7 650.5H838.3M624.7 666.1H838.3M624.7 681.8H838.3M625.3 493.7V681.8M678.4 493.7V681.8M731.5 493.7V681.8M784.6 493.7V681.8M837.7 493.7V681.8M883.6 493.7H1097.2M883.6 540.7H1097.2M883.6 587.7H1097.2M883.6 603.4H1097.2M883.6 619.1H1097.2M883.6 634.8H1097.2M883.6 650.5H1097.2M883.6 666.1H1097.2M883.6 681.8H1097.2M884.2 493.7V681.8M937.3 493.7V681.8M990.4 493.7V681.8M1043.5 493.7V681.8M1096.6 493.7V681.8M1142.4 493.7H1356M1142.4 540.7H1356M1142.4 587.7H1356M1142.4 603.4H1356M1142.4 619.1H1356M1142.4 634.8H1356M1142.4 650.5H1356M1142.4 666.1H1356M1142.4 681.8H1356M1143 493.7V681.8M1196.1 493.7V681.8M1249.2 493.7V681.8M1302.3 493.7V681.8M1355.4 493.7V681.8M1401.4 493.7H1615M1401.4 540.7H1615M1401.4 587.7H1615M1401.4 603.4H1615M1401.4 619.1H1615M1401.4 634.8H1615M1401.4 650.5H1615M1401.4 666.1H1615M1401.4 681.8H1615M1402 493.7V681.8M1455.1 493.7V681.8M1508.2 493.7V681.8M1561.3 493.7V681.8M1614.4 493.7V681.8M1659.9 493.7H1739.6M1659.9 540.7H1739.6M1659.9 587.7H1739.6M1659.9 603.4H1739.6M1659.9 619.1H1739.6M1659.9 634.8H1739.6M1659.9 650.5H1739.6M1659.9 666.1H1739.6M1659.9 681.8H1739.6M1660.5 493.7V681.8M1739 493.7V681.8M74.5 697.5H570.3M74.5 744.5H570.3M74.5 760.2H570.3M74.5 775.9H570.3M74.5 791.6H570.3M74.5 807.3H570.3M74.5 822.9H570.3M74.5 838.6H570.3M74.5 854.3H570.3M74.5 870H570.3M74.5 885.7H570.3M74.5 901.3H570.3M74.5 917H570.3M74.5 932.7H570.3M75.1 697.5V932.7M104 697.5V932.7M134.2 697.5V932.7M279.4 697.5V932.7M357.3 697.5V932.7M410.4 697.5V932.7M463.5 697.5V932.7M516.6 697.5V932.7M569.7 697.5V932.7M624.7 697.5H838.3M624.7 744.5H838.3M624.7 760.2H838.3M624.7 775.9H838.3M624.7 791.6H838.3M624.7 807.3H838.3M624.7 822.9H838.3M624.7 838.6H838.3M624.7 854.3H838.3M624.7 870H838.3M624.7 885.7H838.3M624.7 901.3H838.3M624.7 917H838.3M624.7 932.7H838.3M625.3 697.5V932.7M678.4 697.5V932.7M731.5 697.5V932.7M784.6 697.5V932.7M837.7 697.5V932.7M883.6 697.5H1097.2M883.6 744.5H1097.2M883.6 760.2H1097.2M883.6 775.9H1097.2M883.6 791.6H1097.2M883.6 807.3H1097.2M883.6 822.9H1097.2M883.6 838.6H1097.2M883.6 854.3H1097.2M883.6 870H1097.2M883.6 885.7H1097.2M883.6 901.3H1097.2M883.6 917H1097.2M883.6 932.7H1097.2M884.2 697.5V932.7M937.3 697.5V932.7M990.4 697.5V932.7M1043.5 697.5V932.7M1096.6 697.5V932.7M1142.4 697.5H1356M1142.4 744.5H1356M1142.4 760.2H1356M1142.4 775.9H1356M1142.4 791.6H1356M1142.4 807.3H1356M1142.4 822.9H1356M1142.4 838.6H1356M1142.4 854.3H1356M1142.4 870H1356M1142.4 885.7H1356M1142.4 901.3H1356M1142.4 917H1356M1142.4 932.7H1356M1143 697.5V932.7M1196.1 697.5V932.7M1249.2 697.5V932.7M1302.3 697.5V932.7M1355.4 697.5V932.7M1401.4 697.5H1615M1401.4 744.5H1615M1401.4 760.2H1615M1401.4 775.9H1615M1401.4 791.6H1615M1401.4 807.3H1615M1401.4 822.9H1615M1401.4 838.6H1615M1401.4 854.3H1615M1401.4 870H1615M1401.4 885.7H1615M1401.4 901.3H1615M1401.4 917H1615M1401.4 932.7H1615M1402 697.5V932.7M1455.1 697.5V932.7M1508.2 697.5V932.7M1561.3 697.5V932.7M1614.4 697.5V932.7M1659.9 697.5H1739.6M1659.9 744.5H1739.6M1659.9 760.2H1739.6M1659.9 775.9H1739.6M1659.9 791.6H1739.6M1659.9 807.3H1739.6M1659.9 822.9H1739.6M1659.9 838.6H1739.6M1659.9 854.3H1739.6M1659.9 870H1739.6M1659.9 885.7H1739.6M1659.9 901.3H1739.6M1659.9 917H1739.6M1659.9 932.7H1739.6M1660.5 697.5V932.7M1739 697.5V932.7M74.5 1011.1H570.3M74.5 1058.1H570.3M74.5 1073.8H570.3M74.5 1089.5H570.3M74.5 1105.2H570.3M74.5 1120.9H570.3M74.5 1136.5H570.3M74.5 1152.2H570.3M74.5 1167.9H570.3M74.5 1183.6H570.3M74.5 1199.3H570.3M74.5 1214.9H570.3M74.5 1230.6H570.3M74.5 1246.3H570.3M75.1 1011.1V1246.3M104 1011.1V1246.3M134.2 1011.1V1246.3M279.4 1011.1V1246.3M357.3 1011.1V1246.3M410.4 1011.1V1246.3M463.5 1011.1V1246.3M516.6 1011.1V1246.3M569.7 1011.1V1246.3M624.7 1011.1H838.3M624.7 1058.1H838.3M624.7 1073.8H838.3M624.7 1089.5H838.3M624.7 1105.2H838.3M624.7 1120.9H838.3M624.7 1136.5H838.3M624.7 1152.2H838.3M624.7 1167.9H838.3M624.7 1183.6H838.3M624.7 1199.3H838.3M624.7 1214.9H838.3M624.7 1230.6H838.3M624.7 1246.3H838.3M625.3 1011.1V1246.3M678.4 1011.1V1246.3M731.5 1011.1V1246.3M784.6 1011.1V1246.3M837.7 1011.1V1246.3M883.6 1011.1H1097.2M883.6 1058.1H1097.2M883.6 1073.8H1097.2M883.6 1089.5H1097.2M883.6 1105.2H1097.2M883.6 1120.9H1097.2M883.6 1136.5H1097.2M883.6 1152.2H1097.2M883.6 1167.9H1097.2M883.6 1183.6H1097.2M883.6 1199.3H1097.2M883.6 1214.9H1097.2M883.6 1230.6H1097.2M883.6 1246.3H1097.2M884.2 1011.1V1246.3M937.3 1011.1V1246.3M990.4 1011.1V1246.3M1043.5 1011.1V1246.3M1096.6 1011.1V1246.3M1142.4 1011.1H1356M1142.4 1058.1H1356M1142.4 1073.8H1356M1142.4 1089.5H1356M1142.4 1105.2H1356M1142.4 1120.9H1356M1142.4 1136.5H1356M1142.4 1152.2H1356M1142.4 1167.9H1356M1142.4 1183.6H1356M1142.4 1199.3H1356M1142.4 1214.9H1356M1142.4 1230.6H1356M1142.4 1246.3H1356M1143 1011.1V1246.3M1196.1 1011.1V1246.3M1249.2 1011.1V1246.3M1302.3 1011.1V1246.3M1355.4 1011.1V1246.3M1401.4 1011.1H1615M1401.4 1058.1H1615M1401.4 1073.8H1615M1401.4 1089.5H1615M1401.4 1105.2H1615M1401.4 1120.9H1615M1401.4 1136.5H1615M1401.4 1152.2H1615M1401.4 1167.9H1615M1401.4 1183.6H1615M1401.4 1199.3H1615M1401.4 1214.9H1615M1401.4 1230.6H1615M1401.4 1246.3H1615M1402 1011.1V1246.3M1455.1 1011.1V1246.3M1508.2 1011.1V1246.3M1561.3 1011.1V1246.3M1614.4 1011.1V1246.3M1659.9 1011.1H1739.6M1659.9 1058.1H1739.6M1659.9 1073.8H1739.6M1659.9 1089.5H1739.6M1659.9 1105.2H1739.6M1659.9 1120.9H1739.6M1659.9 1136.5H1739.6M1659.9 1152.2H1739.6M1659.9 1167.9H1739.6M1659.9 1183.6H1739.6M1659.9 1199.3H1739.6M1659.9 1214.9H1739.6M1659.9 1230.6H1739.6M1659.9 1246.3H1739.6M1660.5 1011.1V1246.3M1739 1011.1V1246.3M74.5 1309H570.3M74.5 1356.1H570.3M74.5 1371.7H570.3M74.5 1387.4H570.3M74.5 1403.1H570.3M74.5 1418.8H570.3M74.5 1434.5H570.3M74.5 1450.1H570.3M74.5 1465.8H570.3M74.5 1481.5H570.3M74.5 1497.2H570.3M74.5 1512.9H570.3M74.5 1528.5H570.3M74.5 1544.2H570.3M74.5 1559.9H570.3M74.5 1575.6H570.3M74.5 1591.3H570.3M74.5 1606.9H570.3M74.5 1622.6H570.3M74.5 1638.3H570.3M74.5 1654H570.3M74.5 1669.7H570.3M74.5 1685.3H570.3M74.5 1701H570.3M74.5 1716.7H570.3M74.5 1730.4H570.3M74.5 1746.1H570.3M74.5 1761.8H570.3M74.5 1777.4H570.3M75.1 1309V1777.4M104 1309V1777.4M134.2 1309V1777.4M279.4 1309V1777.4M357.3 1309V1777.4M410.4 1309V1777.4M463.5 1309V1777.4M516.6 1309V1777.4M569.7 1309V1777.4M624.7 1309H838.3M624.7 1356.1H838.3M624.7 1371.7H838.3M624.7 1387.4H838.3M624.7 1403.1H838.3M624.7 1418.8H838.3M624.7 1434.5H838.3M624.7 1450.1H838.3M624.7 1465.8H838.3M624.7 1481.5H838.3M624.7 1497.2H838.3M624.7 1512.9H838.3M624.7 1528.5H838.3M624.7 1544.2H838.3M624.7 1559.9H838.3M624.7 1575.6H838.3M624.7 1591.3H838.3M624.7 1606.9H838.3M624.7 1622.6H838.3M624.7 1638.3H838.3M624.7 1654H838.3M624.7 1669.7H838.3M624.7 1685.3H838.3M624.7 1701H838.3M624.7 1716.7H838.3M624.7 1730.4H838.3M624.7 1746.1H838.3M624.7 1761.8H838.3M624.7 1777.4H838.3M625.3 1309V1777.4M678.4 1309V1777.4M731.5 1309V1777.4M784.6 1309V1777.4M837.7 1309V1777.4M883.6 1309H1097.2M883.6 1356.1H1097.2M883.6 1371.7H1097.2M883.6 1387.4H1097.2M883.6 1403.1H1097.2M883.6 1418.8H1097.2M883.6 1434.5H1097.2M883.6 1450.1H1097.2M883.6 1465.8H1097.2M883.6 1481.5H1097.2M883.6 1497.2H1097.2M883.6 1512.9H1097.2M883.6 1528.5H1097.2M883.6 1544.2H1097.2M883.6 1559.9H1097.2M883.6 1575.6H1097.2M883.6 1591.3H1097.2M883.6 1606.9H1097.2M883.6 1622.6H1097.2M883.6 1638.3H1097.2M883.6 1654H1097.2M883.6 1669.7H1097.2M883.6 1685.3H1097.2M883.6 1701H1097.2M883.6 1716.7H1097.2M883.6 1730.4H1097.2M883.6 1746.1H1097.2M883.6 1761.8H1097.2M883.6 1777.4H1097.2M884.2 1309V1777.4M937.3 1309V1777.4M990.4 1309V1777.4M1043.5 1309V1777.4M1096.6 1309V1777.4M1142.4 1309H1356M1142.4 1356.1H1356M1142.4 1371.7H1356M1142.4 1387.4H1356M1142.4 1403.1H1356M1142.4 1418.8H1356M1142.4 1434.5H1356M1142.4 1450.1H1356M1142.4 1465.8H1356M1142.4 1481.5H1356M1142.4 1497.2H1356M1142.4 1512.9H1356M1142.4 1528.5H1356M1142.4 1544.2H1356M1142.4 1559.9H1356M1142.4 1575.6H1356M1142.4 1591.3H1356M1142.4 1606.9H1356M1142.4 1622.6H1356M1142.4 1638.3H1356M1142.4 1654H1356M1142.4 1669.7H1356M1142.4 1685.3H1356M1142.4 1701H1356M1142.4 1716.7H1356M1142.4 1730.4H1356M1142.4 1746.1H1356M1142.4 1761.8H1356M1142.4 1777.4H1356M1143 1309V1777.4M1196.1 1309V1777.4M1249.2 1309V1777.4M1302.3 1309V1777.4M1355.4 1309V1777.4M1401.4 1309H1615M1401.4 1356.1H1615M1401.4 1371.7H1615M1401.4 1387.4H1615M1401.4 1403.1H1615M1401.4 1418.8H1615M1401.4 1434.5H1615M1401.4 1450.1H1615M1401.4 1465.8H1615M1401.4 1481.5H1615M1401.4 1497.2H1615M1401.4 1512.9H1615M1401.4 1528.5H1615M1401.4 1544.2H1615M1401.4 1559.9H1615M1401.4 1575.6H1615M1401.4 1591.3H1615M1401.4 1606.9H1615M1401.4 1622.6H1615M1401.4 1638.3H1615M1401.4 1654H1615M1401.4 1669.7H1615M1401.4 1685.3H1615M1401.4 1701H1615M1401.4 1716.7H1615M1401.4 1730.4H1615M1401.4 1746.1H1615M1401.4 1761.8H1615M1401.4 1777.4H1615M1402 1309V1777.4M1455.1 1309V1777.4M1508.2 1309V1777.4M1561.3 1309V1777.4M1614.4 1309V1777.4M1659.9 1309H1739.6M1659.9 1356.1H1739.6M1659.9 1371.7H1739.6M1659.9 1387.4H1739.6M1659.9 1403.1H1739.6M1659.9 1418.8H1739.6M1659.9 1434.5H1739.6M1659.9 1450.1H1739.6M1659.9 1465.8H1739.6M1659.9 1481.5H1739.6M1659.9 1497.2H1739.6M1659.9 1512.9H1739.6M1659.9 1528.5H1739.6M1659.9 1544.2H1739.6M1659.9 1559.9H1739.6M1659.9 1575.6H1739.6M1659.9 1591.3H1739.6M1659.9 1606.9H1739.6M1659.9 1622.6H1739.6M1659.9 1638.3H1739.6M1659.9 1654H1739.6M1659.9 1669.7H1739.6M1659.9 1685.3H1739.6M1659.9 1701H1739.6M1659.9 1716.7H1739.6M1659.9 1730.4H1739.6M1659.9 1746.1H1739.6M1659.9 1761.8H1739.6M1659.9 1777.4H1739.6M1660.5 1309V1777.4M1739 1309V1777.4M74.5 1824.5H570.3M74.5 1871.5H570.3M74.5 1887.2H570.3M74.5 1902.9H570.3M74.5 1918.6H570.3M74.5 1934.2H570.3M74.5 1949.9H570.3M74.5 1965.6H570.3M74.5 1981.3H570.3M74.5 1997H570.3M74.5 2012.6H570.3M74.5 2028.3H570.3M74.5 2044H570.3M74.5 2059.7H570.3M74.5 2075.4H570.3M74.5 2091H570.3M74.5 2106.7H570.3M74.5 2122.4H570.3M74.5 2138.1H570.3M74.5 2153.8H570.3M74.5 2169.4H570.3M74.5 2185.1H570.3M75.1 1824.5V2185.1M104 1824.5V2185.1M134.2 1824.5V2185.1M279.4 1824.5V2185.1M357.3 1824.5V2185.1M410.4 1824.5V2185.1M463.5 1824.5V2185.1M516.6 1824.5V2185.1M569.7 1824.5V2185.1M624.7 1824.5H838.3M624.7 1871.5H838.3M624.7 1887.2H838.3M624.7 1902.9H838.3M624.7 1918.6H838.3M624.7 1934.2H838.3M624.7 1949.9H838.3M624.7 1965.6H838.3M624.7 1981.3H838.3M624.7 1997H838.3M624.7 2012.6H838.3M624.7 2028.3H838.3M624.7 2044H838.3M624.7 2059.7H838.3M624.7 2075.4H838.3M624.7 2091H838.3M624.7 2106.7H838.3M624.7 2122.4H838.3M624.7 2138.1H838.3M624.7 2153.8H838.3M624.7 2169.4H838.3M624.7 2185.1H838.3M625.3 1824.5V2185.1M678.4 1824.5V2185.1M731.5 1824.5V2185.1M784.6 1824.5V2185.1M837.7 1824.5V2185.1M883.6 1824.5H1097.2M883.6 1871.5H1097.2M883.6 1887.2H1097.2M883.6 1902.9H1097.2M883.6 1918.6H1097.2M883.6 1934.2H1097.2M883.6 1949.9H1097.2M883.6 1965.6H1097.2M883.6 1981.3H1097.2M883.6 1997H1097.2M883.6 2012.6H1097.2M883.6 2028.3H1097.2M883.6 2044H1097.2M883.6 2059.7H1097.2M883.6 2075.4H1097.2M883.6 2091H1097.2M883.6 2106.7H1097.2M883.6 2122.4H1097.2M883.6 2138.1H1097.2M883.6 2153.8H1097.2M883.6 2169.4H1097.2M883.6 2185.1H1097.2M884.2 1824.5V2185.1M937.3 1824.5V2185.1M990.4 1824.5V2185.1M1043.5 1824.5V2185.1M1096.6 1824.5V2185.1M1142.4 1824.5H1356M1142.4 1871.5H1356M1142.4 1887.2H1356M1142.4 1902.9H1356M1142.4 1918.6H1356M1142.4 1934.2H1356M1142.4 1949.9H1356M1142.4 1965.6H1356M1142.4 1981.3H1356M1142.4 1997H1356M1142.4 2012.6H1356M1142.4 2028.3H1356M1142.4 2044H1356M1142.4 2059.7H1356M1142.4 2075.4H1356M1142.4 2091H1356M1142.4 2106.7H1356M1142.4 2122.4H1356M1142.4 2138.1H1356M1142.4 2153.8H1356M1142.4 2169.4H1356M1142.4 2185.1H1356M1143 1824.5V2185.1M1196.1 1824.5V2185.1M1249.2 1824.5V2185.1M1302.3 1824.5V2185.1M1355.4 1824.5V2185.1M1401.4 1824.5H1615M1401.4 1871.5H1615M1401.4 1887.2H1615M1401.4 1902.9H1615M1401.4 1918.6H1615M1401.4 1934.2H1615M1401.4 1949.9H1615M1401.4 1965.6H1615M1401.4 1981.3H1615M1401.4 1997H1615M1401.4 2012.6H1615M1401.4 2028.3H1615M1401.4 2044H1615M1401.4 2059.7H1615M1401.4 2075.4H1615M1401.4 2091H1615M1401.4 2106.7H1615M1401.4 2122.4H1615M1401.4 2138.1H1615M1401.4 2153.8H1615M1401.4 2169.4H1615M1401.4 2185.1H1615M1402 1824.5V2185.1M1455.1 1824.5V2185.1M1508.2 1824.5V2185.1M1561.3 1824.5V2185.1M1614.4 1824.5V2185.1M1659.9 1824.5H1739.6M1659.9 1871.5H1739.6M1659.9 1887.2H1739.6M1659.9 1902.9H1739.6M1659.9 1918.6H1739.6M1659.9 1934.2H1739.6M1659.9 1949.9H1739.6M1659.9 1965.6H1739.6M1659.9 1981.3H1739.6M1659.9 1997H1739.6M1659.9 2012.6H1739.6M1659.9 2028.3H1739.6M1659.9 2044H1739.6M1659.9 2059.7H1739.6M1659.9 2075.4H1739.6M1659.9 2091H1739.6M1659.9 2106.7H1739.6M1659.9 2122.4H1739.6M1659.9 2138.1H1739.6M1659.9 2153.8H1739.6M1659.9 2169.4H1739.6M1659.9 2185.1H1739.6M1660.5 1824.5V2185.1M1739 1824.5V2185.1M74.5 2200.8H570.3M74.5 2247.8H570.3M74.5 2263.5H570.3M74.5 2279.2H570.3M75.1 2200.8V2279.2M104 2200.8V2279.2M134.2 2200.8V2279.2M279.4 2200.8V2279.2M357.3 2200.8V2279.2M410.4 2200.8V2279.2M463.5 2200.8V2279.2M516.6 2200.8V2279.2M569.7 2200.8V2279.2M624.7 2200.8H838.3M624.7 2247.8H838.3M624.7 2263.5H838.3M624.7 2279.2H838.3M625.3 2200.8V2279.2M678.4 2200.8V2279.2M731.5 2200.8V2279.2M784.6 2200.8V2279.2M837.7 2200.8V2279.2M883.6 2200.8H1097.2M883.6 2247.8H1097.2M883.6 2263.5H1097.2M883.6 2279.2H1097.2M884.2 2200.8V2279.2M937.3 2200.8V2279.2M990.4 2200.8V2279.2M1043.5 2200.8V2279.2M1096.6 2200.8V2279.2M1142.4 2200.8H1356M1142.4 2247.8H1356M1142.4 2263.5H1356M1142.4 2279.2H1356M1143 2200.8V2279.2M1196.1 2200.8V2279.2M1249.2 2200.8V2279.2M1302.3 2200.8V2279.2M1355.4 2200.8V2279.2M1401.4 2200.8H1615M1401.4 2247.8H1615M1401.4 2263.5H1615M1401.4 2279.2H1615M1402 2200.8V2279.2M1455.1 2200.8V2279.2M1508.2 2200.8V2279.2M1561.3 2200.8V2279.2M1614.4 2200.8V2279.2M1659.9 2200.8H1739.6M1659.9 2247.8H1739.6M1659.9 2263.5H1739.6M1659.9 2279.2H1739.6M1660.5 2200.8V2279.2M1739 2200.8V2279.2M74.5 2294.9H570.3M74.5 2341.9H570.3M74.5 2357.6H570.3M74.5 2373.3H570.3M74.5 2389H570.3M74.5 2404.6H570.3M74.5 2420.3H570.3M74.5 2436H570.3M74.5 2451.7H570.3M75.1 2294.9V2451.7M104 2294.9V2451.7M134.2 2294.9V2451.7M279.4 2294.9V2451.7M357.3 2294.9V2451.7M410.4 2294.9V2451.7M463.5 2294.9V2451.7M516.6 2294.9V2451.7M569.7 2294.9V2451.7M624.7 2294.9H838.3M624.7 2341.9H838.3M624.7 2357.6H838.3M624.7 2373.3H838.3M624.7 2389H838.3M624.7 2404.6H838.3M624.7 2420.3H838.3M624.7 2436H838.3M624.7 2451.7H838.3M625.3 2294.9V2451.7M678.4 2294.9V2451.7M731.5 2294.9V2451.7M784.6 2294.9V2451.7M837.7 2294.9V2451.7M883.6 2294.9H1097.2M883.6 2341.9H1097.2M883.6 2357.6H1097.2M883.6 2373.3H1097.2M883.6 2389H1097.2M883.6 2404.6H1097.2M883.6 2420.3H1097.2M883.6 2436H1097.2M883.6 2451.7H1097.2M884.2 2294.9V2451.7M937.3 2294.9V2451.7M990.4 2294.9V2451.7M1043.5 2294.9V2451.7M1096.6 2294.9V2451.7M1142.4 2294.9H1356M1142.4 2341.9H1356M1142.4 2357.6H1356M1142.4 2373.3H1356M1142.4 2389H1356M1142.4 2404.6H1356M1142.4 2420.3H1356M1142.4 2436H1356M1142.4 2451.7H1356M1143 2294.9V2451.7M1196.1 2294.9V2451.7M1249.2 2294.9V2451.7M1302.3 2294.9V2451.7M1355.4 2294.9V2451.7M1401.4 2294.9H1615M1401.4 2341.9H1615M1401.4 2357.6H1615M1401.4 2373.3H1615M1401.4 2389H1615M1401.4 2404.6H1615M1401.4 2420.3H1615M1401.4 2436H1615M1401.4 2451.7H1615M1402 2294.9V2451.7M1455.1 2294.9V2451.7M1508.2 2294.9V2451.7M1561.3 2294.9V2451.7M1614.4 2294.9V2451.7M1659.9 2294.9H1739.6M1659.9 2341.9H1739.6M1659.9 2357.6H1739.6M1659.9 2373.3H1739.6M1659.9 2389H1739.6M1659.9 2404.6H1739.6M1659.9 2420.3H1739.6M1659.9 2436H1739.6M1659.9 2451.7H1739.6M1660.5 2294.9V2451.7M1739 2294.9V2451.7M356.7 195.7H562.3M356.7 211.4H562.3M357.3 195.7V227.1M569.7 214.7V227.1M625.3 214.7V227.1M837.7 214.7V227.1M961.3 195.7H1097.2M961.3 211.4H1097.2M1096.6 195.7V227.1M884.2 214.7V227.1M1142.4 195.7H1356M1142.4 211.4H1356M1143 195.7V227.1M1355.4 195.7V227.1M1401.4 195.7H1615M1401.4 211.4H1615M1402 195.7V227.1M1614.4 195.7V227.1M133.6 2483H280M103.4 2498.7H280M103.4 2514.4H280M103.4 2530.1H280M103.4 2545.8H280M104 2498.7V2545.8M134.2 2483V2545.8M279.4 2483V2545.8"/>
<g class="hb">
<text x="89.5" y="254.8" textLength="21.6" lengthAdjust="spacingAndGlyphs">Pos.</text>
<text x="119.1" y="254.8" textLength="13.2" lengthAdjust="spacingAndGlyphs">Nº</text>
<text x="383.9" y="254.8" textLength="18" lengthAdjust="spacingAndGlyphs">S. 1</text>
<text x="437" y="254.8" textLength="18.3" lengthAdjust="spacingAndGlyphs">S. 2</text>
<text x="490.1" y="254.8" textLength="24.3" lengthAdjust="spacingAndGlyphs">Final</text>
<text x="543.1" y="254.8" textLength="27.8" lengthAdjust="spacingAndGlyphs">1ra F.</text>
<text x="651.8" y="254.8" textLength="18" lengthAdjust="spacingAndGlyphs">S. 1</text>
<text x="704.9" y="254.8" textLength="18.3" lengthAdjust="spacingAndGlyphs">S. 2</text>
<text x="758" y="254.8" textLength="24.3" lengthAdjust="spacingAndGlyphs">Final</text>
<text x="811.1" y="254.8" textLength="31.4" lengthAdjust="spacingAndGlyphs">2da F.</text>
<text x="910.8" y="254.8" textLength="18" lengthAdjust="spacingAndGlyphs">S. 1</text>
<text x="963.9" y="254.8" textLength="18.3" lengthAdjust="spacingAndGlyphs">S. 2</text>
<text x="1017" y="254.8" textLength="24.3" lengthAdjust="spacingAndGlyphs">Final</text>
<text x="1070" y="254.8" textLength="27.8" lengthAdjust="spacingAndGlyphs">3ra F.</text>
<text x="1169.5" y="254.8" textLength="18" lengthAdjust="spacingAndGlyphs">S. 1</text>
<text x="1222.7" y="254.8" textLength="18.3" lengthAdjust="spacingAndGlyphs">S. 2</text>
<text x="1275.8" y="254.8" textLength="24.3" lengthAdjust="spacingAndGlyphs">Final</text>
<text x="1328.8" y="254.8" textLength="27.8" lengthAdjust="spacingAndGlyphs">4ta F.</text>
<text x="1428.5" y="254.8" textLength="18" lengthAdjust="spacingAndGlyphs">S. 1</text>
<text x="1481.7" y="254.8" textLength="18.3" lengthAdjust="spacingAndGlyphs">S. 2</text>
<text x="1534.8" y="254.8" textLength="24.3" lengthAdjust="spacingAndGlyphs">Final</text>
<text x="1587.8" y="254.8" textLength="28.2" lengthAdjust="spacingAndGlyphs">5ta F.</text>
<text x="89.5" y="521.4" textLength="21.6" lengthAdjust="spacingAndGlyphs">Pos.</text>
<text x="119.1" y="521.4" textLength="13.2" lengthAdjust="spacingAndGlyphs">Nº</text>
<text x="383.9" y="521.4" textLength="18" lengthAdjust="spacingAndGlyphs">S. 1</text>
<text x="437" y="521.4" textLength="18.3" lengthAdjust="spacingAndGlyphs">S. 2</text>
<text x="490.1" y="521.4" textLength="24.3" lengthAdjust="spacingAndGlyphs">Final</text>
<text x="543.1" y="521.4" textLength="27.8" lengthAdjust="spacingAndGlyphs">1ra F.</text>
<text x="651.8" y="521.4" textLength="18" lengthAdjust="spacingAndGlyphs">S. 1</text>
<text x="704.9" y="521.4" textLength="18.3" lengthAdjust="spacingAndGlyphs">S. 2</text>
<text x="758" y="521.4" textLength="24.3" lengthAdjust="spacingAndGlyphs">Final</text>
<text x="811.1" y="521.4" textLength="31.4" lengthAdjust="spacingAndGlyphs">2da F.</text>
<text x="910.8" y="521.4" textLength="18" lengthAdjust="spacingAndGlyphs">S. 1</text>
<text x="963.9" y="521.4" textLength="18.3" lengthAdjust="spacingAndGlyphs">S. 2</text>
<text x="1017" y="521.4" textLength="24.3" lengthAdjust="spacingAndGlyphs">Final</text>
<text x="1070" y="521.4" textLength="27.8" lengthAdjust="spacingAndGlyphs">3ra F.</text>
<text x="1169.5" y="521.4" textLength="18" lengthAdjust="spacingAndGlyphs">S. 1</text>
<text x="1222.7" y="521.4" textLength="18.3" lengthAdjust="spacingAndGlyphs">S. 2</text>
<text x="1275.8" y="521.4" textLength="24.3" lengthAdjust="spacingAndGlyphs">Final</text>
<text x="1328.8" y="521.4" textLength="27.8" lengthAdjust="spacingAndGlyphs">4ta F.</text>
<text x="1428.5" y="521.4" textLength="18" lengthAdjust="spacingAndGlyphs">S. 1</text>
<text x="1481.7" y="521.4" textLength="18.3" lengthAdjust="spacingAndGlyphs">S. 2</text>
<text x="1534.8" y="521.4" textLength="24.3" lengthAdjust="spacingAndGlyphs">Final</text>
<text x="1587.8" y="521.4" textLength="28.2" lengthAdjust="spacingAndGlyphs">5ta F.</text>
<text x="1699.8" y="521.4">Apertura</text>
<text x="89.5" y="725.2" textLength="21.6" lengthAdjust="spacingAndGlyphs">Pos.</text>
<text x="119.1" y="725.2" textLength="13.2" lengthAdjust="spacingAndGlyphs">Nº</text>
<text x="383.9" y="725.2" textLength="18" lengthAdjust="spacingAndGlyphs">S. 1</text>
<text x="437" y="725.2" textLength="18.3" lengthAdjust="spacingAndGlyphs">S. 2</text>
<text x="490.1" y="725.2" textLength="24.3" lengthAdjust="spacingAndGlyphs">Final</text>
<text x="543.1" y="725.2" textLength="27.8" lengthAdjust="spacingAndGlyphs">1ra F.</text>
<text x="651.8" y="725.2" textLength="18" lengthAdjust="spacingAndGlyphs">S. 1</text>
<text x="704.9" y="725.2" textLength="18.3" lengthAdjust="spacingAndGlyphs">S. 2</text>
<text x="758" y="725.2" textLength="24.3" lengthAdjust="spacingAndGlyphs">Final</text>
<text x="811.1" y="725.2" textLength="31.4" lengthAdjust="spacingAndGlyphs">2da F.</text>
<text x="910.8" y="725.2" textLength="18" lengthAdjust="spacingAndGlyphs">S. 1</text>
<text x="963.9" y="725.2" textLength="18.3" lengthAdjust="spacingAndGlyphs">S. 2</text>
<text x="1017" y="725.2" textLength="24.3" lengthAdjust="spacingAndGlyphs">Final</text>
<text x="1070" y="725.2" textLength="27.8" lengthAdjust="spacingAndGlyphs">3ra F.</text>
<text x="1169.5" y="725.2" textLength="18" lengthAdjust="spacingAndGlyphs">S. 1</text>
<text x="1222.7" y="725.2" textLength="18.3" lengthAdjust="spacingAndGlyphs">S. 2</text>
<text x="1275.8" y="725.2" textLength="24.3" lengthAdjust="spacingAndGlyphs">Final</text>
<text x="1328.8" y="725.2" textLength="27.8" lengthAdjust="spacingAndGlyphs">4ta F.</text>
<text x="1428.5" y="725.2" textLength="18" lengthAdjust="spacingAndGlyphs">S. 1</text>
<text x="1481.7" y="725.2" textLength="18.3" lengthAdjust="spacingAndGlyphs">S. 2</text>
<text x="1534.8" y="725.2" textLength="24.3" lengthAdjust="spacingAndGlyphs">Final</text>
<text x="1587.8" y="725.2" textLength="28.2" lengthAdjust="spacingAndGlyphs">5ta F.</text>
<text x="89.5" y="1038.8" textLength="21.6" lengthAdjust="spacingAndGlyphs">Pos.</text>
<text x="119.1" y="1038.8" textLength="13.2" lengthAdjust="spacingAndGlyphs">Nº</text>
<text x="383.9" y="1038.8" textLength="18" lengthAdjust="spacingAndGlyphs">S. 1</text>
<text x="437" y="1038.8" textLength="18.3" lengthAdjust="spacingAndGlyphs">S. 2</text>
<text x="490.1" y="1038.8" textLength="24.3" lengthAdjust="spacingAndGlyphs">Final</text>
<text x="543.1" y="1038.8" textLength="27.8" lengthAdjust="spacingAndGlyphs">1ra F.</text>
<text x="651.8" y="1038.8" textLength="18" lengthAdjust="spacingAndGlyphs">S. 1</text>
<text x="704.9" y="1038.8" textLength="18.3" lengthAdjust="spacingAndGlyphs">S. 2</text>
<text x="758" y="1038.8" textLength="24.3" lengthAdjust="spacingAndGlyphs">Final</text>
<text x="811.1" y="1038.8" textLength="31.4" lengthAdjust="spacingAndGlyphs">2da F.</text>
<text x="910.8" y="1038.8" textLength="18" lengthAdjust="spacingAndGlyphs">S. 1</text>
<text x="963.9" y="1038.8" textLength="18.3" lengthAdjust="spacingAndGlyphs">S. 2</text>
<text x="1017" y="1038.8" textLength="24.3" lengthAdjust="spacingAndGlyphs">Final</text>
<text x="1070" y="1038.8" textLength="27.8" lengthAdjust="spacingAndGlyphs">3ra F.</text>
<text x="1169.5" y="1038.8" textLength="18" lengthAdjust="spacingAndGlyphs">S. 1</text>
<text x="1222.7" y="1038.8" textLength="18.3" lengthAdjust="spacingAndGlyphs">S. 2</text>
<text x="1275.8" y="1038.8" textLength="24.3" lengthAdjust="spacingAndGlyphs">Final</text>
<text x="1328.8" y="1038.8" textLength="27.8" lengthAdjust="spacingAndGlyphs">4ta F.</text>
<text x="1428.5" y="1038.8" textLength="18" lengthAdjust="spacingAndGlyphs">S. 1</text>
<text x="1481.7" y="1038.8" textLength="18.3" lengthAdjust="spacingAndGlyphs">S. 2</text>
<text x="1534.8" y="1038.8" textLength="24.3" lengthAdjust="spacingAndGlyphs">Final</text>
<text x="1587.8" y="1038.8" textLength="28.2" lengthAdjust="spacingAndGlyphs">5ta F.</text>
<text x="89.5" y="1336.7" textLength="21.6" lengthAdjust="spacingAndGlyphs">Pos.</text>
<text x="119.1" y="1336.7" textLength="13.2" lengthAdjust="spacingAndGlyphs">Nº</text>
<text x="383.9" y="1336.7" textLength="18" lengthAdjust="spacingAndGlyphs">S. 1</text>
<text x="437" y="1336.7" textLength="18.3" lengthAdjust="spacingAndGlyphs">S. 2</text>
<text x="490.1" y="1336.7" textLength="24.3" lengthAdjust="spacingAndGlyphs">Final</text>
<text x="543.1" y="1336.7" textLength="27.8" lengthAdjust="spacingAndGlyphs">1ra F.</text>
<text x="651.8" y="1336.7" textLength="18" lengthAdjust="spacingAndGlyphs">S. 1</text>
<text x="704.9" y="1336.7" textLength="18.3" lengthAdjust="spacingAndGlyphs">S. 2</text>
<text x="758" y="1336.7" textLength="24.3" lengthAdjust="spacingAndGlyphs">Final</text>
<text x="811.1" y="1336.7" textLength="31.4" lengthAdjust="spacingAndGlyphs">2da F.</text>
<text x="910.8" y="1336.7" textLength="18" lengthAdjust="spacingAndGlyphs">S. 1</text>
<text x="963.9" y="1336.7" textLength="18.3" lengthAdjust="spacingAndGlyphs">S. 2</text>
<text x="1017" y="1336.7" textLength="24.3" lengthAdjust="spacingAndGlyphs">Final</text>
<text x="1070" y="1336.7" textLength="27.8" lengthAdjust="spacingAndGlyphs">3ra F.</text>
<text x="1169.5" y="1336.7" textLength="18" lengthAdjust="spacingAndGlyphs">S. 1</text>
<text x="1222.7" y="1336.7" textLength="18.3" lengthAdjust="spacingAndGlyphs">S. 2</text>
<text x="1275.8" y="1336.7" textLength="24.3" lengthAdjust="spacingAndGlyphs">Final</text>
<text x="1328.8" y="1336.7" textLength="27.8" lengthAdjust="spacingAndGlyphs">4ta F.</text>
<text x="1428.5" y="1336.7" textLength="18" lengthAdjust="spacingAndGlyphs">S. 1</text>
<text x="1481.7" y="1336.7" textLength="18.3" lengthAdjust="spacingAndGlyphs">S. 2</text>
<text x="1534.8" y="1336.7" textLength="24.3" lengthAdjust="spacingAndGlyphs">Final</text>
<text x="1587.8" y="1336.7" textLength="28.2" lengthAdjust="spacingAndGlyphs">5ta F.</text>
<text x="89.5" y="1852.2" textLength="21.6" lengthAdjust="spacingAndGlyphs">Pos.</text>
<text x="119.1" y="1852.2" textLength="13.2" lengthAdjust="spacingAndGlyphs">Nº</text>
<text x="383.9" y="1852.2" textLength="18" lengthAdjust="spacingAndGlyphs">S. 1</text>
<text x="437" y="1852.2" textLength="18.3" lengthAdjust="spacingAndGlyphs">S. 2</text>
<text x="490.1" y="1852.2" textLength="24.3" lengthAdjust="spacingAndGlyphs">Final</text>
<text x="543.1" y="1852.2" textLength="27.8" lengthAdjust="spacingAndGlyphs">1ra F.</text>
<text x="651.8" y="1852.2" textLength="18" lengthAdjust="spacingAndGlyphs">S. 1</text>
<text x="704.9" y="1852.2" textLength="18.3" lengthAdjust="spacingAndGlyphs">S. 2</text>
<text x="758" y="1852.2" textLength="24.3" lengthAdjust="spacingAndGlyphs">Final</text>
<text x="811.1" y="1852.2" textLength="31.4" lengthAdjust="spacingAndGlyphs">2da F.</text>
<text x="910.8" y="1852.2" textLength="18" lengthAdjust="spacingAndGlyphs">S. 1</text>
<text x="963.9" y="1852.2" textLength="18.3" lengthAdjust="spacingAndGlyphs">S. 2</text>
<text x="1017" y="1852.2" textLength="24.3" lengthAdjust="spacingAndGlyphs">Final</text>
<text x="1070" y="1852.2" textLength="27.8" lengthAdjust="spacingAndGlyphs">3ra F.</text>
<text x="1169.5" y="1852.2" textLength="18" lengthAdjust="spacingAndGlyphs">S. 1</text>
<text x="1222.7" y="1852.2" textLength="18.3" lengthAdjust="spacingAndGlyphs">S. 2</text>
<text x="1275.8" y="1852.2" textLength="24.3" lengthAdjust="spacingAndGlyphs">Final</text>
<text x="1328.8" y="1852.2" textLength="27.8" lengthAdjust="spacingAndGlyphs">4ta F.</text>
<text x="1428.5" y="1852.2" textLength="18" lengthAdjust="spacingAndGlyphs">S. 1</text>
<text x="1481.7" y="1852.2" textLength="18.3" lengthAdjust="spacingAndGlyphs">S. 2</text>
<text x="1534.8" y="1852.2" textLength="24.3" lengthAdjust="spacingAndGlyphs">Final</text>
<text x="1587.8" y="1852.2" textLength="28.2" lengthAdjust="spacingAndGlyphs">5ta F.</text>
<text x="89.5" y="2228.5" textLength="21.6" lengthAdjust="spacingAndGlyphs">Pos.</text>
<text x="119.1" y="2228.5" textLength="13.2" lengthAdjust="spacingAndGlyphs">Nº</text>
<text x="383.9" y="2228.5" textLength="18" lengthAdjust="spacingAndGlyphs">S. 1</text>
<text x="437" y="2228.5" textLength="18.3" lengthAdjust="spacingAndGlyphs">S. 2</text>
<text x="490.1" y="2228.5" textLength="24.3" lengthAdjust="spacingAndGlyphs">Final</text>
<text x="543.1" y="2228.5" textLength="27.8" lengthAdjust="spacingAndGlyphs">1ra F.</text>
<text x="651.8" y="2228.5" textLength="18" lengthAdjust="spacingAndGlyphs">S. 1</text>
<text x="704.9" y="2228.5" textLength="18.3" lengthAdjust="spacingAndGlyphs">S. 2</text>
<text x="758" y="2228.5" textLength="24.3" lengthAdjust="spacingAndGlyphs">Final</text>
<text x="811.1" y="2228.5" textLength="31.4" lengthAdjust="spacingAndGlyphs">2da F.</text>
<text x="910.8" y="2228.5" textLength="18" lengthAdjust="spacingAndGlyphs">S. 1</text>
<text x="963.9" y="2228.5" textLength="18.3" lengthAdjust="spacingAndGlyphs">S. 2</text>
<text x="1017" y="2228.5" textLength="24.3" lengthAdjust="spacingAndGlyphs">Final</text>
<text x="1070" y="2228.5" textLength="27.8" lengthAdjust="spacingAndGlyphs">3ra F.</text>
<text x="1169.5" y="2228.5" textLength="18" lengthAdjust="spacingAndGlyphs">S. 1</text>
<text x="1222.7" y="2228.5" textLength="18.3" lengthAdjust="spacingAndGlyphs">S. 2</text>
<text x="1275.8" y="2228.5" textLength="24.3" lengthAdjust="spacingAndGlyphs">Final</text>
<text x="1328.8" y="2228.5" textLength="27.8" lengthAdjust="spacingAndGlyphs">4ta F.</text>
<text x="1428.5" y="2228.5" textLength="18" lengthAdjust="spacingAndGlyphs">S. 1</text>
<text x="1481.7" y="2228.5" textLength="18.3" lengthAdjust="spacingAndGlyphs">S. 2</text>
<text x="1534.8" y="2228.5" textLength="24.3" lengthAdjust="spacingAndGlyphs">Final</text>
<text x="1587.8" y="2228.5" textLength="28.2" lengthAdjust="spacingAndGlyphs">5ta F.</text>
<text x="89.5" y="2322.6" textLength="21.6" lengthAdjust="spacingAndGlyphs">Pos.</text>
<text x="119.1" y="2322.6" textLength="13.2" lengthAdjust="spacingAndGlyphs">Nº</text>
<text x="383.9" y="2322.6" textLength="18" lengthAdjust="spacingAndGlyphs">S. 1</text>
<text x="437" y="2322.6" textLength="18.3" lengthAdjust="spacingAndGlyphs">S. 2</text>
<text x="490.1" y="2322.6" textLength="24.3" lengthAdjust="spacingAndGlyphs">Final</text>
<text x="543.1" y="2322.6" textLength="27.8" lengthAdjust="spacingAndGlyphs">1ra F.</text>
<text x="651.8" y="2322.6" textLength="18" lengthAdjust="spacingAndGlyphs">S. 1</text>
<text x="704.9" y="2322.6" textLength="18.3" lengthAdjust="spacingAndGlyphs">S. 2</text>
<text x="758" y="2322.6" textLength="24.3" lengthAdjust="spacingAndGlyphs">Final</text>
<text x="811.1" y="2322.6" textLength="31.4" lengthAdjust="spacingAndGlyphs">2da F.</text>
<text x="910.8" y="2322.6" textLength="18" lengthAdjust="spacingAndGlyphs">S. 1</text>
<text x="963.9" y="2322.6" textLength="18.3" lengthAdjust="spacingAndGlyphs">S. 2</text>
<text x="1017" y="2322.6" textLength="24.3" lengthAdjust="spacingAndGlyphs">Final</text>
<text x="1070" y="2322.6" textLength="27.8" lengthAdjust="spacingAndGlyphs">3ra F.</text>
<text x="1169.5" y="2322.6" textLength="18" lengthAdjust="spacingAndGlyphs">S. 1</text>
<text x="1222.7" y="2322.6" textLength="18.3" lengthAdjust="spacingAndGlyphs">S. 2</text>
<text x="1275.8" y="2322.6" textLength="24.3" lengthAdjust="spacingAndGlyphs">Final</text>
<text x="1328.8" y="2322.6" textLength="27.8" lengthAdjust="spacingAndGlyphs">4ta F.</text>
<text x="1428.5" y="2322.6" textLength="18" lengthAdjust="spacingAndGlyphs">S. 1</text>
<text x="1481.7" y="2322.6" textLength="18.3" lengthAdjust="spacingAndGlyphs">S. 2</text>
<text x="1534.8" y="2322.6" textLength="24.3" lengthAdjust="spacingAndGlyphs">Final</text>
<text x="1587.8" y="2322.6" textLength="28.2" lengthAdjust="spacingAndGlyphs">5ta F.</text>
</g>
<g class="hu">
<text x="206.8" y="254.8" textLength="64" lengthAdjust="spacingAndGlyphs">MICRO MAX</text>
<text x="318.4" y="254.8" textLength="71.5" lengthAdjust="spacingAndGlyphs">Puntos TOTAL</text>
<text x="206.8" y="521.4" textLength="78.1" lengthAdjust="spacingAndGlyphs">MICRO ROOKIE</text>
<text x="318.4" y="521.4" textLength="71.5" lengthAdjust="spacingAndGlyphs">Puntos TOTAL</text>
<text x="206.8" y="725.2" textLength="53.1" lengthAdjust="spacingAndGlyphs">MINI MAX</text>
<text x="318.4" y="725.2" textLength="71.5" lengthAdjust="spacingAndGlyphs">Puntos TOTAL</text>
<text x="206.8" y="1038.8" textLength="67.3" lengthAdjust="spacingAndGlyphs">JUNIOR MAX</text>
<text x="318.4" y="1038.8" textLength="71.5" lengthAdjust="spacingAndGlyphs">Puntos TOTAL</text>
<text x="206.8" y="1336.7" textLength="66.9" lengthAdjust="spacingAndGlyphs">SENIOR MAX</text>
<text x="318.4" y="1336.7" textLength="71.5" lengthAdjust="spacingAndGlyphs">Puntos TOTAL</text>
<text x="206.8" y="1852.2" textLength="70.6" lengthAdjust="spacingAndGlyphs">MASTER MAX</text>
<text x="318.4" y="1852.2" textLength="71.5" lengthAdjust="spacingAndGlyphs">Puntos TOTAL</text>
<text x="206.8" y="2228.5" textLength="104.3" lengthAdjust="spacingAndGlyphs">DD2 SUPER MASTER</text>
<text x="318.4" y="2228.5" textLength="71.5" lengthAdjust="spacingAndGlyphs">Puntos TOTAL</text>
<text x="206.8" y="2322.6" textLength="21.3" lengthAdjust="spacingAndGlyphs">DD2</text>
<text x="318.4" y="2322.6" textLength="71.5" lengthAdjust="spacingAndGlyphs">Puntos TOTAL</text>
</g>
<g class="ht">
<text x="1699.8" y="254.8" textLength="32.5" lengthAdjust="spacingAndGlyphs">TOTAL</text>
<text x="1699.8" y="725.2" textLength="32.5" lengthAdjust="spacingAndGlyphs">TOTAL</text>
<text x="1699.8" y="1038.8" textLength="32.5" lengthAdjust="spacingAndGlyphs">TOTAL</text>
<text x="1699.8" y="1336.7" textLength="32.5" lengthAdjust="spacingAndGlyphs">TOTAL</text>
<text x="1699.8" y="1852.2" textLength="32.5" lengthAdjust="spacingAndGlyphs">TOTAL</text>
<text x="1699.8" y="2228.5" textLength="32.5" lengthAdjust="spacingAndGlyphs">TOTAL</text>
<text x="1699.8" y="2322.6" textLength="32.5" lengthAdjust="spacingAndGlyphs">TOTAL</text>
</g>
<g class="n">
<text x="89.5" y="286.2">1</text>
<text x="119.1" y="286.2">66</text>
<text x="383.9" y="286.2">25</text>
<text x="437" y="286.2">25</text>
<text x="490.1" y="286.2">26</text>
<text x="651.8" y="286.2">17</text>
<text x="704.9" y="286.2">25</text>
<text x="758" y="286.2">19</text>
<text x="910.8" y="286.2">25</text>
<text x="963.9" y="286.2">25</text>
<text x="1017" y="286.2">30</text>
<text x="1169.5" y="286.2">25</text>
<text x="1222.7" y="286.2">25</text>
<text x="1275.8" y="286.2">30</text>
<text x="1428.5" y="286.2">25</text>
<text x="1481.7" y="286.2">25</text>
<text x="1534.8" y="286.2">30</text>
<text x="89.5" y="301.9">2</text>
<text x="119.1" y="301.9">14</text>
<text x="383.9" y="301.9">19</text>
<text x="437" y="301.9">22</text>
<text x="490.1" y="301.9">30</text>
<text x="704.9" y="301.9">13</text>
<text x="758" y="301.9">30</text>
<text x="910.8" y="301.9">19</text>
<text x="963.9" y="301.9">22</text>
<text x="1017" y="301.9">26</text>
<text x="1169.5" y="301.9">11</text>
<text x="1222.7" y="301.9">17</text>
<text x="1275.8" y="301.9">22</text>
<text x="1428.5" y="301.9">19</text>
<text x="1481.7" y="301.9">19</text>
<text x="1534.8" y="301.9">22</text>
<text x="89.5" y="317.6">3</text>
<text x="119.1" y="317.6">95</text>
<text x="383.9" y="317.6">22</text>
<text x="437" y="317.6">19</text>
<text x="490.1" y="317.6">22</text>
<text x="651.8" y="317.6">25</text>
<text x="704.9" y="317.6">19</text>
<text x="758" y="317.6">26</text>
<text x="1169.5" y="317.6">22</text>
<text x="1222.7" y="317.6">22</text>
<text x="1275.8" y="317.6">19</text>
<text x="1428.5" y="317.6">22</text>
<text x="1481.7" y="317.6">22</text>
<text x="1534.8" y="317.6">26</text>
<text x="89.5" y="333.3">4</text>
<text x="119.1" y="333.3">18</text>
<text x="383.9" y="333.3">15</text>
<text x="437" y="333.3">15</text>
<text x="490.1" y="333.3">16</text>
<text x="651.8" y="333.3">22</text>
<text x="704.9" y="333.3">22</text>
<text x="758" y="333.3">22</text>
<text x="910.8" y="333.3">22</text>
<text x="963.9" y="333.3">15</text>
<text x="1169.5" y="333.3">15</text>
<text x="1222.7" y="333.3">13</text>
<text x="1275.8" y="333.3">26</text>
<text x="1481.7" y="333.3">15</text>
<text x="1534.8" y="333.3">19</text>
<text x="89.5" y="348.9">5</text>
<text x="119.1" y="348.9">7</text>
<text x="383.9" y="348.9">17</text>
<text x="437" y="348.9">17</text>
<text x="490.1" y="348.9">19</text>
<text x="651.8" y="348.9">19</text>
<text x="704.9" y="348.9">15</text>
<text x="758" y="348.9">16</text>
<text x="1169.5" y="348.9">19</text>
<text x="1222.7" y="348.9">19</text>
<text x="1275.8" y="348.9">14</text>
<text x="89.5" y="364.6">6</text>
<text x="119.1" y="364.6">21</text>
<text x="383.9" y="364.6">13</text>
<text x="437" y="364.6">13</text>
<text x="490.1" y="364.6">14</text>
<text x="651.8" y="364.6">11</text>
<text x="704.9" y="364.6">11</text>
<text x="758" y="364.6">12</text>
<text x="910.8" y="364.6">15</text>
<text x="963.9" y="364.6">17</text>
<text x="1017" y="364.6">22</text>
<text x="1428.5" y="364.6">13</text>
<text x="1534.8" y="364.6">10</text>
<text x="89.5" y="380.3">7</text>
<text x="119.1" y="380.3">12</text>
<text x="383.9" y="380.3">11</text>
<text x="437" y="380.3">11</text>
<text x="490.1" y="380.3">12</text>
<text x="651.8" y="380.3">13</text>
<text x="704.9" y="380.3">9</text>
<text x="758" y="380.3">10</text>
<text x="910.8" y="380.3">17</text>
<text x="963.9" y="380.3">19</text>
<text x="1428.5" y="380.3">9</text>
<text x="1481.7" y="380.3">7</text>
<text x="1534.8" y="380.3">8</text>
<text x="89.5" y="396">8</text>
<text x="119.1" y="396">27</text>
<text x="1169.5" y="396">17</text>
<text x="1222.7" y="396">15</text>
<text x="1275.8" y="396">16</text>
<text x="1428.5" y="396">17</text>
<text x="1481.7" y="396">17</text>
<text x="1534.8" y="396">16</text>
<text x="89.5" y="411.7">9</text>
<text x="119.1" y="411.7">70</text>
<text x="1169.5" y="411.7">13</text>
<text x="1222.7" y="411.7">11</text>
<text x="1275.8" y="411.7">12</text>
<text x="1428.5" y="411.7">15</text>
<text x="1481.7" y="411.7">11</text>
<text x="1534.8" y="411.7">12</text>
<text x="89.5" y="427.3">10</text>
<text x="119.1" y="427.3">81</text>
<text x="651.8" y="427.3">15</text>
<text x="704.9" y="427.3">17</text>
<text x="758" y="427.3">14</text>
<text x="1481.7" y="427.3">13</text>
<text x="1534.8" y="427.3">14</text>
<text x="89.5" y="443">11</text>
<text x="119.1" y="443">44</text>
<text x="1428.5" y="443">11</text>
<text x="1481.7" y="443">9</text>
<text x="89.5" y="458.7">12</text>
<text x="119.1" y="458.7">24</text>
<text x="1428.5" y="458.7">7</text>
<text x="1481.7" y="458.7">6</text>
<text x="1534.8" y="458.7">5</text>
<text x="89.5" y="474.4">13</text>
<text x="119.1" y="474.4">15</text>
<text x="1481.7" y="474.4">5</text>
<text x="1534.8" y="474.4">6</text>
<text x="89.5" y="599.8">1</text>
<text x="119.1" y="599.8">7</text>
<text x="383.9" y="599.8">25</text>
<text x="437" y="599.8">25</text>
<text x="490.1" y="599.8">30</text>
<text x="651.8" y="599.8">25</text>
<text x="704.9" y="599.8">25</text>
<text x="758" y="599.8">30</text>
<text x="1169.5" y="599.8">25</text>
<text x="1222.7" y="599.8">25</text>
<text x="1275.8" y="599.8">30</text>
<text x="89.5" y="615.5">2</text>
<text x="119.1" y="615.5">21</text>
<text x="383.9" y="615.5">22</text>
<text x="437" y="615.5">22</text>
<text x="490.1" y="615.5">26</text>
<text x="651.8" y="615.5">19</text>
<text x="704.9" y="615.5">19</text>
<text x="758" y="615.5">26</text>
<text x="910.8" y="615.5">22</text>
<text x="963.9" y="615.5">22</text>
<text x="1017" y="615.5">30</text>
<text x="1428.5" y="615.5">25</text>
<text x="1534.8" y="615.5">30</text>
<text x="89.5" y="631.2">3</text>
<text x="119.1" y="631.2">12</text>
<text x="383.9" y="631.2">19</text>
<text x="437" y="631.2">19</text>
<text x="490.1" y="631.2">22</text>
<text x="651.8" y="631.2">22</text>
<text x="704.9" y="631.2">22</text>
<text x="758" y="631.2">22</text>
<text x="910.8" y="631.2">25</text>
<text x="963.9" y="631.2">25</text>
<text x="1428.5" y="631.2">19</text>
<text x="1481.7" y="631.2">22</text>
<text x="1534.8" y="631.2">26</text>
<text x="89.5" y="646.9">4</text>
<text x="119.1" y="646.9">24</text>
<text x="1428.5" y="646.9">17</text>
<text x="1481.7" y="646.9">19</text>
<text x="1534.8" y="646.9">19</text>
<text x="89.5" y="662.5">5</text>
<text x="119.1" y="662.5">44</text>
<text x="1428.5" y="662.5">22</text>
<text x="1481.7" y="662.5">25</text>
<text x="89.5" y="678.2">6</text>
<text x="119.1" y="678.2">15</text>
<text x="1481.7" y="678.2">17</text>
<text x="1534.8" y="678.2">22</text>
<text x="89.5" y="756.6">1</text>
<text x="119.1" y="756.6">131</text>
<text x="383.9" y="756.6">25</text>
<text x="437" y="756.6">25</text>
<text x="490.1" y="756.6">30</text>
<text x="651.8" y="756.6">25</text>
<text x="704.9" y="756.6">25</text>
<text x="758" y="756.6">26</text>
<text x="910.8" y="756.6">22</text>
<text x="963.9" y="756.6">19</text>
<text x="1017" y="756.6">26</text>
<text x="1169.5" y="756.6">22</text>
<text x="1222.7" y="756.6">25</text>
<text x="1275.8" y="756.6">30</text>
<text x="1428.5" y="756.6">19</text>
<text x="1481.7" y="756.6">19</text>
<text x="1534.8" y="756.6">22</text>
<text x="89.5" y="772.3">2</text>
<text x="119.1" y="772.3">156</text>
<text x="651.8" y="772.3">22</text>
<text x="704.9" y="772.3">22</text>
<text x="758" y="772.3">30</text>
<text x="910.8" y="772.3">25</text>
<text x="963.9" y="772.3">25</text>
<text x="1017" y="772.3">30</text>
<text x="1169.5" y="772.3">25</text>
<text x="1222.7" y="772.3">19</text>
<text x="1275.8" y="772.3">26</text>
<text x="89.5" y="788">3</text>
<text x="119.1" y="788">108</text>
<text x="383.9" y="788">15</text>
<text x="437" y="788">15</text>
<text x="490.1" y="788">16</text>
<text x="651.8" y="788">15</text>
<text x="704.9" y="788">15</text>
<text x="758" y="788">16</text>
<text x="963.9" y="788">22</text>
<text x="1017" y="788">22</text>
<text x="1169.5" y="788">13</text>
<text x="1222.7" y="788">13</text>
<text x="1275.8" y="788">14</text>
<text x="89.5" y="803.7">4</text>
<text x="119.1" y="803.7">111</text>
<text x="383.9" y="803.7">17</text>
<text x="437" y="803.7">19</text>
<text x="490.1" y="803.7">26</text>
<text x="651.8" y="803.7">17</text>
<text x="704.9" y="803.7">17</text>
<text x="758" y="803.7">22</text>
<text x="1169.5" y="803.7">17</text>
<text x="1222.7" y="803.7">17</text>
<text x="1275.8" y="803.7">19</text>
<text x="89.5" y="819.3">5</text>
<text x="119.1" y="819.3">180</text>
<text x="383.9" y="819.3">22</text>
<text x="437" y="819.3">22</text>
<text x="490.1" y="819.3">22</text>
<text x="651.8" y="819.3">19</text>
<text x="704.9" y="819.3">19</text>
<text x="758" y="819.3">19</text>
<text x="89.5" y="835">6</text>
<text x="119.1" y="835">118</text>
<text x="1169.5" y="835">15</text>
<text x="1222.7" y="835">15</text>
<text x="1275.8" y="835">16</text>
<text x="1428.5" y="835">22</text>
<text x="1481.7" y="835">25</text>
<text x="1534.8" y="835">30</text>
<text x="89.5" y="850.7">7</text>
<text x="119.1" y="850.7">133</text>
<text x="383.9" y="850.7">19</text>
<text x="437" y="850.7">17</text>
<text x="490.1" y="850.7">19</text>
<text x="1169.5" y="850.7">19</text>
<text x="1222.7" y="850.7">22</text>
<text x="1275.8" y="850.7">22</text>
<text x="89.5" y="866.4">8</text>
<text x="119.1" y="866.4">179</text>
<text x="1428.5" y="866.4">25</text>
<text x="1481.7" y="866.4">22</text>
<text x="1534.8" y="866.4">26</text>
<text x="89.5" y="882.1">9</text>
<text x="119.1" y="882.1">123</text>
<text x="1428.5" y="882.1">17</text>
<text x="1481.7" y="882.1">17</text>
<text x="1534.8" y="882.1">16</text>
<text x="89.5" y="897.7">10</text>
<text x="119.1" y="897.7">110</text>
<text x="383.9" y="897.7">13</text>
<text x="437" y="897.7">13</text>
<text x="490.1" y="897.7">14</text>
<text x="89.5" y="913.4">11</text>
<text x="119.1" y="913.4">152</text>
<text x="1428.5" y="913.4">15</text>
<text x="1534.8" y="913.4">19</text>
<text x="89.5" y="929.1">12</text>
<text x="119.1" y="929.1">125</text>
<text x="89.5" y="1070.2">1</text>
<text x="119.1" y="1070.2">233</text>
<text x="383.9" y="1070.2">25</text>
<text x="437" y="1070.2">25</text>
<text x="490.1" y="1070.2">30</text>
<text x="910.8" y="1070.2">25</text>
<text x="963.9" y="1070.2">25</text>
<text x="1017" y="1070.2">30</text>
<text x="1169.5" y="1070.2">25</text>
<text x="1222.7" y="1070.2">25</text>
<text x="1275.8" y="1070.2">30</text>
<text x="1428.5" y="1070.2">25</text>
<text x="1481.7" y="1070.2">22</text>
<text x="1534.8" y="1070.2">30</text>
<text x="89.5" y="1085.9">2</text>
<text x="119.1" y="1085.9">266</text>
<text x="383.9" y="1085.9">22</text>
<text x="437" y="1085.9">19</text>
<text x="490.1" y="1085.9">26</text>
<text x="651.8" y="1085.9">25</text>
<text x="704.9" y="1085.9">15</text>
<text x="758" y="1085.9">19</text>
<text x="910.8" y="1085.9">19</text>
<text x="963.9" y="1085.9">15</text>
<text x="1017" y="1085.9">16</text>
<text x="1169.5" y="1085.9">19</text>
<text x="1222.7" y="1085.9">17</text>
<text x="1275.8" y="1085.9">26</text>
<text x="1428.5" y="1085.9">15</text>
<text x="1481.7" y="1085.9">25</text>
<text x="1534.8" y="1085.9">22</text>
<text x="89.5" y="1101.6">3</text>
<text x="119.1" y="1101.6">297</text>
<text x="383.9" y="1101.6">19</text>
<text x="437" y="1101.6">22</text>
<text x="490.1" y="1101.6">19</text>
<text x="651.8" y="1101.6">22</text>
<text x="758" y="1101.6">30</text>
<text x="910.8" y="1101.6">22</text>
<text x="963.9" y="1101.6">22</text>
<text x="1017" y="1101.6">26</text>
<text x="1169.5" y="1101.6">22</text>
<text x="1222.7" y="1101.6">15</text>
<text x="1275.8" y="1101.6">19</text>
<text x="1428.5" y="1101.6">19</text>
<text x="1481.7" y="1101.6">13</text>
<text x="1534.8" y="1101.6">26</text>
<text x="89.5" y="1117.3">4</text>
<text x="119.1" y="1117.3">295</text>
<text x="383.9" y="1117.3">13</text>
<text x="437" y="1117.3">13</text>
<text x="490.1" y="1117.3">16</text>
<text x="651.8" y="1117.3">19</text>
<text x="704.9" y="1117.3">25</text>
<text x="758" y="1117.3">26</text>
<text x="910.8" y="1117.3">17</text>
<text x="963.9" y="1117.3">19</text>
<text x="1017" y="1117.3">22</text>
<text x="1169.5" y="1117.3">11</text>
<text x="1222.7" y="1117.3">13</text>
<text x="1275.8" y="1117.3">16</text>
<text x="1428.5" y="1117.3">22</text>
<text x="1481.7" y="1117.3">11</text>
<text x="89.5" y="1132.9">5</text>
<text x="119.1" y="1132.9">217</text>
<text x="383.9" y="1132.9">17</text>
<text x="437" y="1132.9">17</text>
<text x="490.1" y="1132.9">22</text>
<text x="651.8" y="1132.9">17</text>
<text x="704.9" y="1132.9">22</text>
<text x="758" y="1132.9">22</text>
<text x="910.8" y="1132.9">13</text>
<text x="963.9" y="1132.9">17</text>
<text x="1017" y="1132.9">19</text>
<text x="1169.5" y="1132.9">17</text>
<text x="1222.7" y="1132.9">11</text>
<text x="1428.5" y="1132.9">13</text>
<text x="1481.7" y="1132.9">9</text>
<text x="1534.8" y="1132.9">19</text>
<text x="89.5" y="1148.6">6</text>
<text x="119.1" y="1148.6">227</text>
<text x="383.9" y="1148.6">15</text>
<text x="437" y="1148.6">15</text>
<text x="490.1" y="1148.6">14</text>
<text x="651.8" y="1148.6">13</text>
<text x="704.9" y="1148.6">19</text>
<text x="758" y="1148.6">14</text>
<text x="910.8" y="1148.6">15</text>
<text x="963.9" y="1148.6">13</text>
<text x="1428.5" y="1148.6">17</text>
<text x="1481.7" y="1148.6">19</text>
<text x="1534.8" y="1148.6">16</text>
<text x="89.5" y="1164.3">7</text>
<text x="119.1" y="1164.3">270</text>
<text x="1169.5" y="1164.3">13</text>
<text x="1222.7" y="1164.3">9</text>
<text x="1275.8" y="1164.3">12</text>
<text x="1428.5" y="1164.3">9</text>
<text x="1481.7" y="1164.3">15</text>
<text x="1534.8" y="1164.3">14</text>
<text x="89.5" y="1180">8</text>
<text x="119.1" y="1180">268</text>
<text x="1169.5" y="1180">15</text>
<text x="1222.7" y="1180">22</text>
<text x="1275.8" y="1180">22</text>
<text x="89.5" y="1195.7">9</text>
<text x="119.1" y="1195.7">200</text>
<text x="651.8" y="1195.7">15</text>
<text x="704.9" y="1195.7">17</text>
<text x="758" y="1195.7">16</text>
<text x="89.5" y="1211.3">10</text>
<text x="119.1" y="1211.3">237</text>
<text x="1428.5" y="1211.3">11</text>
<text x="1481.7" y="1211.3">17</text>
<text x="1534.8" y="1211.3">12</text>
<text x="89.5" y="1227">11</text>
<text x="119.1" y="1227">264</text>
<text x="383.9" y="1227">11</text>
<text x="437" y="1227">11</text>
<text x="490.1" y="1227">12</text>
<text x="89.5" y="1242.7">12</text>
<text x="119.1" y="1242.7">225</text>
<text x="1222.7" y="1242.7">19</text>
<text x="1275.8" y="1242.7">14</text>
<text x="89.5" y="1368.1">1</text>
<text x="119.1" y="1368.1">313</text>
<text x="383.9" y="1368.1">25</text>
<text x="437" y="1368.1">25</text>
<text x="490.1" y="1368.1">30</text>
<text x="651.8" y="1368.1">19</text>
<text x="704.9" y="1368.1">25</text>
<text x="758" y="1368.1">30</text>
<text x="910.8" y="1368.1">25</text>
<text x="963.9" y="1368.1">25</text>
<text x="1017" y="1368.1">30</text>
<text x="1169.5" y="1368.1">25</text>
<text x="1222.7" y="1368.1">25</text>
<text x="1275.8" y="1368.1">30</text>
<text x="1428.5" y="1368.1">25</text>
<text x="1481.7" y="1368.1">4</text>
<text x="1534.8" y="1368.1">22</text>
<text x="89.5" y="1383.8">2</text>
<text x="119.1" y="1383.8">357</text>
<text x="651.8" y="1383.8">25</text>
<text x="704.9" y="1383.8">17</text>
<text x="758" y="1383.8">16</text>
<text x="910.8" y="1383.8">22</text>
<text x="963.9" y="1383.8">22</text>
<text x="1017" y="1383.8">22</text>
<text x="1169.5" y="1383.8">17</text>
<text x="1222.7" y="1383.8">22</text>
<text x="1428.5" y="1383.8">22</text>
<text x="1481.7" y="1383.8">25</text>
<text x="1534.8" y="1383.8">30</text>
<text x="89.5" y="1399.5">3</text>
<text x="119.1" y="1399.5">360</text>
<text x="383.9" y="1399.5">11</text>
<text x="437" y="1399.5">15</text>
<text x="490.1" y="1399.5">16</text>
<text x="651.8" y="1399.5">13</text>
<text x="704.9" y="1399.5">15</text>
<text x="758" y="1399.5">22</text>
<text x="910.8" y="1399.5">19</text>
<text x="963.9" y="1399.5">13</text>
<text x="1017" y="1399.5">10</text>
<text x="1169.5" y="1399.5">15</text>
<text x="1222.7" y="1399.5">17</text>
<text x="1275.8" y="1399.5">22</text>
<text x="1428.5" y="1399.5">17</text>
<text x="1481.7" y="1399.5">2</text>
<text x="1534.8" y="1399.5">10</text>
<text x="89.5" y="1415.2">3</text>
<text x="119.1" y="1415.2">311</text>
<text x="383.9" y="1415.2">15</text>
<text x="437" y="1415.2">22</text>
<text x="490.1" y="1415.2">26</text>
<text x="651.8" y="1415.2">17</text>
<text x="704.9" y="1415.2">22</text>
<text x="758" y="1415.2">26</text>
<text x="1169.5" y="1415.2">22</text>
<text x="1275.8" y="1415.2">26</text>
<text x="1481.7" y="1415.2">13</text>
<text x="1534.8" y="1415.2">26</text>
<text x="89.5" y="1430.9">5</text>
<text x="119.1" y="1430.9">375</text>
<text x="383.9" y="1430.9">19</text>
<text x="437" y="1430.9">17</text>
<text x="490.1" y="1430.9">19</text>
<text x="651.8" y="1430.9">9</text>
<text x="704.9" y="1430.9">11</text>
<text x="758" y="1430.9">10</text>
<text x="910.8" y="1430.9">7</text>
<text x="963.9" y="1430.9">17</text>
<text x="1017" y="1430.9">3</text>
<text x="1222.7" y="1430.9">4</text>
<text x="1275.8" y="1430.9">8</text>
<text x="1428.5" y="1430.9">11</text>
<text x="1481.7" y="1430.9">22</text>
<text x="1534.8" y="1430.9">16</text>
<text x="89.5" y="1446.5">7</text>
<text x="119.1" y="1446.5">325</text>
<text x="910.8" y="1446.5">17</text>
<text x="963.9" y="1446.5">11</text>
<text x="1017" y="1446.5">26</text>
<text x="1169.5" y="1446.5">19</text>
<text x="1222.7" y="1446.5">19</text>
<text x="1275.8" y="1446.5">10</text>
<text x="1428.5" y="1446.5">15</text>
<text x="1481.7" y="1446.5">17</text>
<text x="1534.8" y="1446.5">3</text>
<text x="89.5" y="1462.2">8</text>
<text x="119.1" y="1462.2">312</text>
<text x="383.9" y="1462.2">22</text>
<text x="437" y="1462.2">11</text>
<text x="704.9" y="1462.2">9</text>
<text x="758" y="1462.2">14</text>
<text x="910.8" y="1462.2">11</text>
<text x="963.9" y="1462.2">5</text>
<text x="1017" y="1462.2">14</text>
<text x="1169.5" y="1462.2">7</text>
<text x="1275.8" y="1462.2">2</text>
<text x="1428.5" y="1462.2">13</text>
<text x="1481.7" y="1462.2">9</text>
<text x="1534.8" y="1462.2">4</text>
<text x="89.5" y="1477.9">6</text>
<text x="119.1" y="1477.9">316</text>
<text x="383.9" y="1477.9">13</text>
<text x="437" y="1477.9">2</text>
<text x="490.1" y="1477.9">12</text>
<text x="651.8" y="1477.9">22</text>
<text x="704.9" y="1477.9">19</text>
<text x="1017" y="1477.9">19</text>
<text x="1169.5" y="1477.9">1</text>
<text x="1222.7" y="1477.9">5</text>
<text x="1275.8" y="1477.9">12</text>
<text x="89.5" y="1493.6">9</text>
<text x="119.1" y="1493.6">308</text>
<text x="651.8" y="1493.6">15</text>
<text x="704.9" y="1493.6">6</text>
<text x="758" y="1493.6">5</text>
<text x="910.8" y="1493.6">4</text>
<text x="963.9" y="1493.6">7</text>
<text x="1017" y="1493.6">5</text>
<text x="1169.5" y="1493.6">11</text>
<text x="1222.7" y="1493.6">13</text>
<text x="1275.8" y="1493.6">14</text>
<text x="1428.5" y="1493.6">9</text>
<text x="1481.7" y="1493.6">5</text>
<text x="1534.8" y="1493.6">8</text>
<text x="89.5" y="1509.3">10</text>
<text x="119.1" y="1509.3">379</text>
<text x="383.9" y="1509.3">7</text>
<text x="437" y="1509.3">13</text>
<text x="490.1" y="1509.3">10</text>
<text x="704.9" y="1509.3">13</text>
<text x="758" y="1509.3">19</text>
<text x="1017" y="1509.3">8</text>
<text x="1169.5" y="1509.3">6</text>
<text x="1222.7" y="1509.3">3</text>
<text x="1428.5" y="1509.3">4</text>
<text x="1481.7" y="1509.3">7</text>
<text x="1534.8" y="1509.3">5</text>
<text x="89.5" y="1524.9">13</text>
<text x="119.1" y="1524.9">323</text>
<text x="651.8" y="1524.9">11</text>
<text x="704.9" y="1524.9">7</text>
<text x="758" y="1524.9">8</text>
<text x="910.8" y="1524.9">9</text>
<text x="963.9" y="1524.9">4</text>
<text x="1017" y="1524.9">12</text>
<text x="1169.5" y="1524.9">3</text>
<text x="1222.7" y="1524.9">1</text>
<text x="1275.8" y="1524.9">1</text>
<text x="1428.5" y="1524.9">7</text>
<text x="1481.7" y="1524.9">19</text>
<text x="1534.8" y="1524.9">12</text>
<text x="89.5" y="1540.6">14</text>
<text x="119.1" y="1540.6">397</text>
<text x="383.9" y="1540.6">6</text>
<text x="437" y="1540.6">7</text>
<text x="490.1" y="1540.6">3</text>
<text x="963.9" y="1540.6">15</text>
<text x="1017" y="1540.6">4</text>
<text x="1169.5" y="1540.6">5</text>
<text x="1222.7" y="1540.6">6</text>
<text x="1275.8" y="1540.6">6</text>
<text x="1428.5" y="1540.6">5</text>
<text x="1481.7" y="1540.6">15</text>
<text x="1534.8" y="1540.6">6</text>
<text x="89.5" y="1556.3">11</text>
<text x="119.1" y="1556.3">369</text>
<text x="437" y="1556.3">6</text>
<text x="490.1" y="1556.3">8</text>
<text x="651.8" y="1556.3">7</text>
<text x="758" y="1556.3">12</text>
<text x="963.9" y="1556.3">6</text>
<text x="1017" y="1556.3">4</text>
<text x="1222.7" y="1556.3">9</text>
<text x="1275.8" y="1556.3">16</text>
<text x="1428.5" y="1556.3">1</text>
<text x="1534.8" y="1556.3">1</text>
<text x="89.5" y="1572">12</text>
<text x="119.1" y="1572">358</text>
<text x="383.9" y="1572">17</text>
<text x="437" y="1572">19</text>
<text x="490.1" y="1572">22</text>
<text x="89.5" y="1587.7">15</text>
<text x="119.1" y="1587.7">311</text>
<text x="910.8" y="1587.7">13</text>
<text x="963.9" y="1587.7">19</text>
<text x="1017" y="1587.7">16</text>
<text x="89.5" y="1603.3">16</text>
<text x="119.1" y="1603.3">303</text>
<text x="1169.5" y="1603.3">13</text>
<text x="1222.7" y="1603.3">15</text>
<text x="1275.8" y="1603.3">19</text>
<text x="89.5" y="1619">24</text>
<text x="119.1" y="1619">333</text>
<text x="1428.5" y="1619">19</text>
<text x="1481.7" y="1619">3</text>
<text x="1534.8" y="1619">19</text>
<text x="89.5" y="1634.7">17</text>
<text x="119.1" y="1634.7">333</text>
<text x="383.9" y="1634.7">1</text>
<text x="437" y="1634.7">5</text>
<text x="490.1" y="1634.7">6</text>
<text x="910.8" y="1634.7">5</text>
<text x="963.9" y="1634.7">3</text>
<text x="1169.5" y="1634.7">9</text>
<text x="1222.7" y="1634.7">11</text>
<text x="1275.8" y="1634.7">1</text>
<text x="89.5" y="1650.4">18</text>
<text x="119.1" y="1650.4">319</text>
<text x="383.9" y="1650.4">4</text>
<text x="437" y="1650.4">1</text>
<text x="490.1" y="1650.4">5</text>
<text x="910.8" y="1650.4">15</text>
<text x="963.9" y="1650.4">9</text>
<text x="1275.8" y="1650.4">4</text>
<text x="89.5" y="1666.1">19</text>
<text x="119.1" y="1666.1">310</text>
<text x="383.9" y="1666.1">9</text>
<text x="437" y="1666.1">9</text>
<text x="490.1" y="1666.1">14</text>
<text x="89.5" y="1681.7">22</text>
<text x="119.1" y="1681.7">347</text>
<text x="383.9" y="1681.7">1</text>
<text x="437" y="1681.7">4</text>
<text x="1169.5" y="1681.7">2</text>
<text x="1222.7" y="1681.7">2</text>
<text x="1275.8" y="1681.7">3</text>
<text x="1428.5" y="1681.7">6</text>
<text x="1481.7" y="1681.7">11</text>
<text x="1534.8" y="1681.7">2</text>
<text x="89.5" y="1697.4">25</text>
<text x="119.1" y="1697.4">395</text>
<text x="383.9" y="1697.4">2</text>
<text x="1428.5" y="1697.4">3</text>
<text x="1481.7" y="1697.4">6</text>
<text x="1534.8" y="1697.4">14</text>
<text x="89.5" y="1713.1">20</text>
<text x="119.1" y="1713.1">377</text>
<text x="383.9" y="1713.1">1</text>
<text x="490.1" y="1713.1">2</text>
<text x="704.9" y="1713.1">5</text>
<text x="758" y="1713.1">6</text>
<text x="1169.5" y="1713.1">4</text>
<text x="1275.8" y="1713.1">1</text>
<text x="383.9" y="1726.8">3</text>
<text x="437" y="1726.8">3</text>
<text x="490.1" y="1726.8">4</text>
<text x="1222.7" y="1726.8">1</text>
<text x="1275.8" y="1726.8">5</text>
<text x="89.5" y="1742.5">23</text>
<text x="119.1" y="1742.5">301</text>
<text x="1222.7" y="1742.5">7</text>
<text x="89.5" y="1758.2">24</text>
<text x="119.1" y="1758.2">321</text>
<text x="383.9" y="1758.2">5</text>
<text x="89.5" y="1773.8">25</text>
<text x="119.1" y="1773.8">342</text>
<text x="1428.5" y="1773.8">2</text>
<text x="1481.7" y="1773.8">1</text>
<text x="89.5" y="1883.6">1</text>
<text x="119.1" y="1883.6">407</text>
<text x="383.9" y="1883.6">25</text>
<text x="437" y="1883.6">25</text>
<text x="490.1" y="1883.6">30</text>
<text x="651.8" y="1883.6">22</text>
<text x="704.9" y="1883.6">22</text>
<text x="758" y="1883.6">22</text>
<text x="910.8" y="1883.6">25</text>
<text x="963.9" y="1883.6">25</text>
<text x="1017" y="1883.6">26</text>
<text x="1169.5" y="1883.6">25</text>
<text x="1222.7" y="1883.6">15</text>
<text x="1275.8" y="1883.6">14</text>
<text x="1428.5" y="1883.6">7</text>
<text x="1481.7" y="1883.6">19</text>
<text x="1534.8" y="1883.6">4</text>
<text x="89.5" y="1899.3">2</text>
<text x="119.1" y="1899.3">477</text>
<text x="383.9" y="1899.3">6</text>
<text x="437" y="1899.3">13</text>
<text x="490.1" y="1899.3">22</text>
<text x="651.8" y="1899.3">15</text>
<text x="704.9" y="1899.3">11</text>
<text x="758" y="1899.3">19</text>
<text x="910.8" y="1899.3">22</text>
<text x="963.9" y="1899.3">19</text>
<text x="1017" y="1899.3">30</text>
<text x="1169.5" y="1899.3">15</text>
<text x="1222.7" y="1899.3">22</text>
<text x="1275.8" y="1899.3">26</text>
<text x="1428.5" y="1899.3">19</text>
<text x="1481.7" y="1899.3">15</text>
<text x="1534.8" y="1899.3">22</text>
<text x="89.5" y="1915">3</text>
<text x="119.1" y="1915">415</text>
<text x="383.9" y="1915">22</text>
<text x="437" y="1915">17</text>
<text x="490.1" y="1915">26</text>
<text x="651.8" y="1915">25</text>
<text x="704.9" y="1915">25</text>
<text x="758" y="1915">30</text>
<text x="1222.7" y="1915">3</text>
<text x="1275.8" y="1915">12</text>
<text x="1428.5" y="1915">25</text>
<text x="1481.7" y="1915">25</text>
<text x="1534.8" y="1915">30</text>
<text x="89.5" y="1930.6">4</text>
<text x="119.1" y="1930.6">416</text>
<text x="383.9" y="1930.6">19</text>
<text x="437" y="1930.6">19</text>
<text x="490.1" y="1930.6">12</text>
<text x="651.8" y="1930.6">9</text>
<text x="704.9" y="1930.6">15</text>
<text x="758" y="1930.6">12</text>
<text x="910.8" y="1930.6">17</text>
<text x="963.9" y="1930.6">17</text>
<text x="1017" y="1930.6">8</text>
<text x="1169.5" y="1930.6">9</text>
<text x="1222.7" y="1930.6">9</text>
<text x="1275.8" y="1930.6">5</text>
<text x="1428.5" y="1930.6">13</text>
<text x="1481.7" y="1930.6">13</text>
<text x="1534.8" y="1930.6">19</text>
<text x="89.5" y="1946.3">5</text>
<text x="119.1" y="1946.3">405</text>
<text x="383.9" y="1946.3">15</text>
<text x="437" y="1946.3">15</text>
<text x="490.1" y="1946.3">19</text>
<text x="651.8" y="1946.3">13</text>
<text x="704.9" y="1946.3">3</text>
<text x="758" y="1946.3">14</text>
<text x="910.8" y="1946.3">19</text>
<text x="963.9" y="1946.3">22</text>
<text x="1017" y="1946.3">6</text>
<text x="1169.5" y="1946.3">13</text>
<text x="1222.7" y="1946.3">19</text>
<text x="1275.8" y="1946.3">19</text>
<text x="89.5" y="1962">6</text>
<text x="119.1" y="1962">408</text>
<text x="1169.5" y="1962">22</text>
<text x="1222.7" y="1962">25</text>
<text x="1275.8" y="1962">30</text>
<text x="1428.5" y="1962">22</text>
<text x="1481.7" y="1962">22</text>
<text x="1534.8" y="1962">26</text>
<text x="89.5" y="1977.7">7</text>
<text x="119.1" y="1977.7">427</text>
<text x="383.9" y="1977.7">9</text>
<text x="437" y="1977.7">6</text>
<text x="490.1" y="1977.7">8</text>
<text x="651.8" y="1977.7">2</text>
<text x="704.9" y="1977.7">9</text>
<text x="758" y="1977.7">10</text>
<text x="1169.5" y="1977.7">17</text>
<text x="1222.7" y="1977.7">17</text>
<text x="1275.8" y="1977.7">10</text>
<text x="1428.5" y="1977.7">17</text>
<text x="1481.7" y="1977.7">17</text>
<text x="1534.8" y="1977.7">14</text>
<text x="89.5" y="1993.4">8</text>
<text x="119.1" y="1993.4">411</text>
<text x="437" y="1993.4">7</text>
<text x="490.1" y="1993.4">14</text>
<text x="651.8" y="1993.4">3</text>
<text x="704.9" y="1993.4">4</text>
<text x="758" y="1993.4">8</text>
<text x="910.8" y="1993.4">15</text>
<text x="963.9" y="1993.4">15</text>
<text x="1017" y="1993.4">10</text>
<text x="1169.5" y="1993.4">11</text>
<text x="1222.7" y="1993.4">13</text>
<text x="1275.8" y="1993.4">16</text>
<text x="1481.7" y="1993.4">11</text>
<text x="1534.8" y="1993.4">5</text>
<text x="89.5" y="2009">9</text>
<text x="119.1" y="2009">488</text>
<text x="383.9" y="2009">13</text>
<text x="437" y="2009">11</text>
<text x="490.1" y="2009">5</text>
<text x="651.8" y="2009">5</text>
<text x="704.9" y="2009">5</text>
<text x="758" y="2009">5</text>
<text x="910.8" y="2009">13</text>
<text x="963.9" y="2009">6</text>
<text x="1017" y="2009">12</text>
<text x="1169.5" y="2009">7</text>
<text x="1428.5" y="2009">15</text>
<text x="1481.7" y="2009">7</text>
<text x="1534.8" y="2009">12</text>
<text x="89.5" y="2024.7">10</text>
<text x="119.1" y="2024.7">465</text>
<text x="651.8" y="2024.7">4</text>
<text x="704.9" y="2024.7">6</text>
<text x="758" y="2024.7">4</text>
<text x="910.8" y="2024.7">9</text>
<text x="963.9" y="2024.7">11</text>
<text x="1017" y="2024.7">22</text>
<text x="1169.5" y="2024.7">6</text>
<text x="1222.7" y="2024.7">5</text>
<text x="1275.8" y="2024.7">6</text>
<text x="1428.5" y="2024.7">11</text>
<text x="1481.7" y="2024.7">9</text>
<text x="1534.8" y="2024.7">16</text>
<text x="89.5" y="2040.4">11</text>
<text x="119.1" y="2040.4">403</text>
<text x="383.9" y="2040.4">17</text>
<text x="437" y="2040.4">22</text>
<text x="490.1" y="2040.4">10</text>
<text x="651.8" y="2040.4">11</text>
<text x="758" y="2040.4">8</text>
<text x="1222.7" y="2040.4">11</text>
<text x="1275.8" y="2040.4">4</text>
<text x="89.5" y="2056.1">12</text>
<text x="119.1" y="2056.1">453</text>
<text x="383.9" y="2056.1">11</text>
<text x="490.1" y="2056.1">16</text>
<text x="651.8" y="2056.1">6</text>
<text x="704.9" y="2056.1">13</text>
<text x="758" y="2056.1">3</text>
<text x="963.9" y="2056.1">13</text>
<text x="1017" y="2056.1">16</text>
<text x="1222.7" y="2056.1">4</text>
<text x="89.5" y="2071.8">13</text>
<text x="119.1" y="2071.8">426</text>
<text x="651.8" y="2071.8">19</text>
<text x="704.9" y="2071.8">19</text>
<text x="758" y="2071.8">26</text>
<text x="89.5" y="2087.4">14</text>
<text x="119.1" y="2087.4">404</text>
<text x="910.8" y="2087.4">11</text>
<text x="963.9" y="2087.4">7</text>
<text x="1017" y="2087.4">14</text>
<text x="1428.5" y="2087.4">9</text>
<text x="1534.8" y="2087.4">10</text>
<text x="89.5" y="2103.1">15</text>
<text x="119.1" y="2103.1">421</text>
<text x="651.8" y="2103.1">17</text>
<text x="704.9" y="2103.1">17</text>
<text x="758" y="2103.1">16</text>
<text x="89.5" y="2118.8">16</text>
<text x="119.1" y="2118.8">418</text>
<text x="651.8" y="2118.8">7</text>
<text x="704.9" y="2118.8">7</text>
<text x="758" y="2118.8">6</text>
<text x="963.9" y="2118.8">9</text>
<text x="1017" y="2118.8">19</text>
<text x="89.5" y="2134.5">17</text>
<text x="119.1" y="2134.5">437</text>
<text x="1169.5" y="2134.5">19</text>
<text x="1222.7" y="2134.5">7</text>
<text x="1275.8" y="2134.5">22</text>
<text x="89.5" y="2150.2">18</text>
<text x="119.1" y="2150.2">476</text>
<text x="383.9" y="2150.2">7</text>
<text x="437" y="2150.2">9</text>
<text x="490.1" y="2150.2">6</text>
<text x="1534.8" y="2150.2">8</text>
<text x="89.5" y="2165.8">19</text>
<text x="119.1" y="2165.8">480</text>
<text x="1169.5" y="2165.8">5</text>
<text x="1222.7" y="2165.8">6</text>
<text x="1275.8" y="2165.8">8</text>
<text x="89.5" y="2181.5">20</text>
<text x="119.1" y="2181.5">474</text>
<text x="1534.8" y="2181.5">6</text>
<text x="89.5" y="2259.9">1</text>
<text x="119.1" y="2259.9">523</text>
<text x="383.9" y="2259.9">22</text>
<text x="437" y="2259.9">25</text>
<text x="490.1" y="2259.9">30</text>
<text x="651.8" y="2259.9">25</text>
<text x="704.9" y="2259.9">25</text>
<text x="758" y="2259.9">30</text>
<text x="910.8" y="2259.9">25</text>
<text x="963.9" y="2259.9">25</text>
<text x="1017" y="2259.9">30</text>
<text x="89.5" y="2275.6">2</text>
<text x="119.1" y="2275.6">555</text>
<text x="383.9" y="2275.6">25</text>
<text x="437" y="2275.6">22</text>
<text x="490.1" y="2275.6">26</text>
<text x="89.5" y="2354">1</text>
<text x="119.1" y="2354">600</text>
<text x="383.9" y="2354">17</text>
<text x="437" y="2354">15</text>
<text x="490.1" y="2354">19</text>
<text x="651.8" y="2354">17</text>
<text x="704.9" y="2354">22</text>
<text x="758" y="2354">26</text>
<text x="910.8" y="2354">22</text>
<text x="963.9" y="2354">25</text>
<text x="1017" y="2354">26</text>
<text x="1169.5" y="2354">25</text>
<text x="1222.7" y="2354">25</text>
<text x="1275.8" y="2354">30</text>
<text x="1428.5" y="2354">22</text>
<text x="1481.7" y="2354">22</text>
<text x="1534.8" y="2354">30</text>
<text x="89.5" y="2369.7">2</text>
<text x="119.1" y="2369.7">614</text>
<text x="383.9" y="2369.7">19</text>
<text x="437" y="2369.7">25</text>
<text x="651.8" y="2369.7">25</text>
<text x="704.9" y="2369.7">25</text>
<text x="758" y="2369.7">30</text>
<text x="910.8" y="2369.7">25</text>
<text x="963.9" y="2369.7">19</text>
<text x="1017" y="2369.7">30</text>
<text x="1169.5" y="2369.7">22</text>
<text x="1222.7" y="2369.7">19</text>
<text x="1275.8" y="2369.7">26</text>
<text x="1428.5" y="2369.7">25</text>
<text x="1481.7" y="2369.7">25</text>
<text x="89.5" y="2385.4">3</text>
<text x="119.1" y="2385.4">663</text>
<text x="383.9" y="2385.4">25</text>
<text x="437" y="2385.4">19</text>
<text x="490.1" y="2385.4">30</text>
<text x="651.8" y="2385.4">22</text>
<text x="704.9" y="2385.4">19</text>
<text x="758" y="2385.4">22</text>
<text x="1169.5" y="2385.4">19</text>
<text x="1222.7" y="2385.4">22</text>
<text x="1275.8" y="2385.4">22</text>
<text x="89.5" y="2401">4</text>
<text x="119.1" y="2401">618</text>
<text x="383.9" y="2401">15</text>
<text x="437" y="2401">22</text>
<text x="490.1" y="2401">26</text>
<text x="651.8" y="2401">15</text>
<text x="704.9" y="2401">13</text>
<text x="910.8" y="2401">19</text>
<text x="963.9" y="2401">22</text>
<text x="1017" y="2401">22</text>
<text x="89.5" y="2416.7">5</text>
<text x="119.1" y="2416.7">615</text>
<text x="383.9" y="2416.7">22</text>
<text x="437" y="2416.7">13</text>
<text x="490.1" y="2416.7">22</text>
<text x="651.8" y="2416.7">19</text>
<text x="704.9" y="2416.7">17</text>
<text x="758" y="2416.7">19</text>
<text x="89.5" y="2432.4">6</text>
<text x="119.1" y="2432.4">674</text>
<text x="437" y="2432.4">17</text>
<text x="490.1" y="2432.4">16</text>
<text x="651.8" y="2432.4">13</text>
<text x="704.9" y="2432.4">15</text>
<text x="758" y="2432.4">16</text>
<text x="89.5" y="2448.1">7</text>
<text x="119.1" y="2448.1">623</text>
<text x="1428.5" y="2448.1">19</text>
<text x="1481.7" y="2448.1">19</text>
<text x="1534.8" y="2448.1">26</text>
</g>
<g class="nl">
<text x="136.8" y="286.2">Bastian Lopez</text>
<text x="136.8" y="301.9">Fabian Lazo</text>
<text x="136.8" y="317.6">Jose Ignacio Sullca</text>
<text x="136.8" y="333.3">Santiago Ricci</text>
<text x="136.8" y="348.9">Joaquin Crosby<tspan class="rg" dy="-3">®</tspan></text>
<text x="136.8" y="364.6">Mikael Capamadjian<tspan class="rg" dy="-3">®</tspan></text>
<text x="136.8" y="380.3">Benjamin Puga<tspan class="rg" dy="-3">®</tspan></text>
<text x="136.8" y="396">Ernesto Del Carpio</text>
<text x="136.8" y="411.7">Gael Centellas</text>
<text x="136.8" y="427.3">Gonzalo Castillo<tspan class="rg" dy="-3">®</tspan></text>
<text x="136.8" y="443">Fenna Castro*</text>
<text x="136.8" y="458.7">Orlando Mendoza*</text>
<text x="136.8" y="474.4">Klaus Pinzas*</text>
<text x="136.8" y="599.8">Joaquin Crosby</text>
<text x="136.8" y="615.5">Mikael Capamadjian</text>
<text x="136.8" y="631.2">Benjamin Puga</text>
<text x="136.8" y="646.9">Orlando Mendoza*</text>
<text x="136.8" y="662.5">Fenna Castro</text>
<text x="136.8" y="678.2">Klaus Pinzas</text>
<text x="136.8" y="756.6">Cristobal Ricci</text>
<text x="136.8" y="772.3">Stefano Gonzales</text>
<text x="136.8" y="788">Gabriel Ramirez</text>
<text x="136.8" y="803.7">Ozil Portocarrero</text>
<text x="136.8" y="819.3">Dylan Bueno</text>
<text x="136.8" y="835">Ariana Del Carpio</text>
<text x="136.8" y="850.7">Emilio De Cordova</text>
<text x="136.8" y="866.4">Joaquin Paz</text>
<text x="136.8" y="882.1">Marcelo Flores</text>
<text x="136.8" y="897.7">Shane Chia</text>
<text x="136.8" y="913.4">Oriana Traverso</text>
<text x="136.8" y="929.1">Gael Cordova</text>
<text x="136.8" y="1070.2">Iago Llempen</text>
<text x="136.8" y="1085.9">Neymar Huanaco</text>
<text x="136.8" y="1101.6">Juan Diego Shimabukuro</text>
<text x="136.8" y="1117.3">Marcello Reggiardo</text>
<text x="136.8" y="1132.9">Armando La Torre</text>
<text x="136.8" y="1148.6">Milan Goitre</text>
<text x="136.8" y="1164.3">Jano Centellas</text>
<text x="136.8" y="1180">Cristobal Bonnett</text>
<text x="136.8" y="1195.7">Valentina Lanza</text>
<text x="136.8" y="1211.3">Nicolas Traverso</text>
<text x="136.8" y="1227">Vinicius Avila</text>
<text x="136.8" y="1242.7">Sebastian Delgado</text>
<text x="136.8" y="1368.1">Manuel Troncoso</text>
<text x="136.8" y="1383.8">Ethan Thorne</text>
<text x="136.8" y="1399.5">Tiziano Antola</text>
<text x="136.8" y="1415.2">Amaru Adrianzen</text>
<text x="136.8" y="1430.9">Christos Kidonis</text>
<text x="136.8" y="1446.5">Guty Michelsen</text>
<text x="136.8" y="1462.2">Evald Perez</text>
<text x="136.8" y="1477.9">Joaquin Pinto</text>
<text x="136.8" y="1493.6">Naoki Kobashigawa</text>
<text x="136.8" y="1509.3">Salvita Ricci</text>
<text x="136.8" y="1524.9">Mateo Novoa</text>
<text x="136.8" y="1540.6">Vasco Sierlecki</text>
<text x="136.8" y="1556.3">Diego De La Torre</text>
<text x="136.8" y="1572">Nicolas Vega</text>
<text x="136.8" y="1587.7">Charline Cordier</text>
<text x="136.8" y="1603.3">Mundy Loyer</text>
<text x="136.8" y="1619">Iago Llempen</text>
<text x="136.8" y="1634.7">Santiago Alarcon</text>
<text x="136.8" y="1650.4">Mateo Alarcon</text>
<text x="136.8" y="1666.1">Adriano Vera</text>
<text x="136.8" y="1681.7">Olek Piotraszewski</text>
<text x="136.8" y="1697.4">Mauricio Olaya</text>
<text x="136.8" y="1713.1">Fernando Eguiluz</text>
<text x="136.8" y="1742.5">Patrick Loyer</text>
<text x="136.8" y="1758.2">Pablo Jequier</text>
<text x="136.8" y="1773.8">Via y Rada Nicolas</text>
<text x="136.8" y="1883.6">Daniel Ramirez</text>
<text x="136.8" y="1899.3">Rafael Fernandez</text>
<text x="136.8" y="1915">Mario Hart</text>
<text x="136.8" y="1930.6">Hugo Vertiz</text>
<text x="136.8" y="1946.3">William Ulfe</text>
<text x="136.8" y="1962">Christian Kobashigawa</text>
<text x="136.8" y="1977.7">Jorge Jenkins</text>
<text x="136.8" y="1993.4">Renzo Zaldivar</text>
<text x="136.8" y="2009">Rafael Doig</text>
<text x="136.8" y="2024.7">Carlos Cuba</text>
<text x="136.8" y="2040.4">Paulo Caceres</text>
<text x="136.8" y="2056.1">Daniel Miyahira</text>
<text x="136.8" y="2071.8">Jhonny Gushiken</text>
<text x="136.8" y="2087.4">Juan Araujo</text>
<text x="136.8" y="2103.1">Guillermo Kaemena</text>
<text x="136.8" y="2118.8">Oscar Montes</text>
<text x="136.8" y="2134.5">Rafael Davila</text>
<text x="136.8" y="2150.2">Brian Rodrigo</text>
<text x="136.8" y="2165.8">Sergio Toribio</text>
<text x="136.8" y="2181.5">Maje Esquivel</text>
<text x="136.8" y="2259.9">Ismael Bustos</text>
<text x="136.8" y="2275.6">Sandro Diez</text>
<text x="136.8" y="2354">Claudio Bisso</text>
<text x="136.8" y="2369.7">Camilo Del Castillo</text>
<text x="136.8" y="2385.4">Mark Harten</text>
<text x="136.8" y="2401">Diego Alonso Cortez</text>
<text x="136.8" y="2416.7">Harold Watson</text>
<text x="136.8" y="2432.4">Mateo Benedetti</text>
<text x="136.8" y="2448.1">Vicente Martinez</text>
<text x="95.6" y="2479.4">*No se puede descartar series descalificadas</text>
<text x="136.8" y="2495.1">No clasificado</text>
<text x="136.8" y="2510.8">Descalificado</text>
<text x="136.8" y="2526.5">No participo</text>
<text x="136.8" y="2542.2">Series de descarte</text>
</g>
<g class="b">
<text x="318.4" y="286.2">377</text>
<text x="543.1" y="286.2">76</text>
<text x="811.1" y="286.2">61</text>
<text x="1070" y="286.2">80</text>
<text x="1328.8" y="286.2">80</text>
<text x="1587.8" y="286.2">80</text>
<text x="318.4" y="301.9">291</text>
<text x="543.1" y="301.9">71</text>
<text x="811.1" y="301.9">43</text>
<text x="1070" y="301.9">67</text>
<text x="1328.8" y="301.9">50</text>
<text x="1587.8" y="301.9">60</text>
<text x="318.4" y="317.6">266</text>
<text x="543.1" y="317.6">63</text>
<text x="811.1" y="317.6">70</text>
<text x="1070" y="317.6">0</text>
<text x="1328.8" y="317.6">63</text>
<text x="1587.8" y="317.6">70</text>
<text x="318.4" y="333.3">237</text>
<text x="543.1" y="333.3">46</text>
<text x="811.1" y="333.3">66</text>
<text x="1070" y="333.3">37</text>
<text x="1328.8" y="333.3">54</text>
<text x="1587.8" y="333.3">34</text>
<text x="318.4" y="348.9">155</text>
<text x="543.1" y="348.9">53</text>
<text x="811.1" y="348.9">50</text>
<text x="1070" y="348.9">0</text>
<text x="1328.8" y="348.9">52</text>
<text x="1587.8" y="348.9">0</text>
<text x="318.4" y="364.6">151</text>
<text x="543.1" y="364.6">40</text>
<text x="811.1" y="364.6">34</text>
<text x="1070" y="364.6">54</text>
<text x="1328.8" y="364.6">0</text>
<text x="1587.8" y="364.6">23</text>
<text x="318.4" y="380.3">126</text>
<text x="543.1" y="380.3">34</text>
<text x="811.1" y="380.3">32</text>
<text x="1070" y="380.3">36</text>
<text x="1328.8" y="380.3">0</text>
<text x="1587.8" y="380.3">24</text>
<text x="318.4" y="396">98</text>
<text x="543.1" y="396">0</text>
<text x="811.1" y="396">0</text>
<text x="1070" y="396">0</text>
<text x="1328.8" y="396">48</text>
<text x="1587.8" y="396">50</text>
<text x="318.4" y="411.7">74</text>
<text x="543.1" y="411.7">0</text>
<text x="811.1" y="411.7">0</text>
<text x="1070" y="411.7">0</text>
<text x="1328.8" y="411.7">36</text>
<text x="1587.8" y="411.7">38</text>
<text x="318.4" y="427.3">73</text>
<text x="543.1" y="427.3">0</text>
<text x="811.1" y="427.3">46</text>
<text x="1070" y="427.3">0</text>
<text x="1328.8" y="427.3">0</text>
<text x="1587.8" y="427.3">27</text>
<text x="318.4" y="443">20</text>
<text x="543.1" y="443">0</text>
<text x="811.1" y="443">0</text>
<text x="1070" y="443">0</text>
<text x="1328.8" y="443">0</text>
<text x="1587.8" y="443">20</text>
<text x="318.4" y="458.7">18</text>
<text x="543.1" y="458.7">0</text>
<text x="811.1" y="458.7">0</text>
<text x="1070" y="458.7">0</text>
<text x="1328.8" y="458.7">0</text>
<text x="1587.8" y="458.7">18</text>
<text x="318.4" y="474.4">11</text>
<text x="543.1" y="474.4">0</text>
<text x="811.1" y="474.4">0</text>
<text x="1070" y="474.4">0</text>
<text x="1328.8" y="474.4">0</text>
<text x="1587.8" y="474.4">11</text>
<text x="318.4" y="599.8">0</text>
<text x="543.1" y="599.8">80</text>
<text x="811.1" y="599.8">80</text>
<text x="1070" y="599.8">0</text>
<text x="1328.8" y="599.8">80</text>
<text x="1587.8" y="599.8">0</text>
<text x="1699.8" y="599.8">240</text>
<text x="318.4" y="615.5">0</text>
<text x="543.1" y="615.5">70</text>
<text x="811.1" y="615.5">64</text>
<text x="1070" y="615.5">74</text>
<text x="1328.8" y="615.5">0</text>
<text x="1587.8" y="615.5">55</text>
<text x="1699.8" y="615.5">263</text>
<text x="318.4" y="631.2">0</text>
<text x="543.1" y="631.2">60</text>
<text x="811.1" y="631.2">66</text>
<text x="1070" y="631.2">50</text>
<text x="1328.8" y="631.2">0</text>
<text x="1587.8" y="631.2">67</text>
<text x="1699.8" y="631.2">243</text>
<text x="318.4" y="646.9">55</text>
<text x="543.1" y="646.9">0</text>
<text x="811.1" y="646.9">0</text>
<text x="1070" y="646.9">0</text>
<text x="1328.8" y="646.9">0</text>
<text x="1587.8" y="646.9">55</text>
<text x="318.4" y="662.5">47</text>
<text x="543.1" y="662.5">0</text>
<text x="811.1" y="662.5">0</text>
<text x="1070" y="662.5">0</text>
<text x="1328.8" y="662.5">0</text>
<text x="1587.8" y="662.5">47</text>
<text x="318.4" y="678.2">39</text>
<text x="543.1" y="678.2">0</text>
<text x="811.1" y="678.2">0</text>
<text x="1070" y="678.2">0</text>
<text x="1328.8" y="678.2">0</text>
<text x="1587.8" y="678.2">39</text>
<text x="318.4" y="756.6">360</text>
<text x="543.1" y="756.6">80</text>
<text x="811.1" y="756.6">76</text>
<text x="1070" y="756.6">67</text>
<text x="1328.8" y="756.6">77</text>
<text x="1587.8" y="756.6">60</text>
<text x="318.4" y="772.3">224</text>
<text x="543.1" y="772.3">0</text>
<text x="811.1" y="772.3">74</text>
<text x="1070" y="772.3">80</text>
<text x="1328.8" y="772.3">70</text>
<text x="1587.8" y="772.3">0</text>
<text x="318.4" y="788">176</text>
<text x="543.1" y="788">46</text>
<text x="811.1" y="788">46</text>
<text x="1070" y="788">44</text>
<text x="1328.8" y="788">40</text>
<text x="1587.8" y="788">0</text>
<text x="318.4" y="803.7">171</text>
<text x="543.1" y="803.7">62</text>
<text x="811.1" y="803.7">56</text>
<text x="1070" y="803.7">0</text>
<text x="1328.8" y="803.7">53</text>
<text x="1587.8" y="803.7">0</text>
<text x="318.4" y="819.3">123</text>
<text x="543.1" y="819.3">66</text>
<text x="811.1" y="819.3">57</text>
<text x="1070" y="819.3">0</text>
<text x="1328.8" y="819.3">0</text>
<text x="1587.8" y="819.3">0</text>
<text x="318.4" y="835">123</text>
<text x="543.1" y="835">0</text>
<text x="811.1" y="835">0</text>
<text x="1070" y="835">0</text>
<text x="1328.8" y="835">46</text>
<text x="1587.8" y="835">77</text>
<text x="318.4" y="850.7">118</text>
<text x="543.1" y="850.7">55</text>
<text x="811.1" y="850.7">0</text>
<text x="1070" y="850.7">0</text>
<text x="1328.8" y="850.7">63</text>
<text x="1587.8" y="850.7">0</text>
<text x="318.4" y="866.4">73</text>
<text x="543.1" y="866.4">0</text>
<text x="811.1" y="866.4">0</text>
<text x="1070" y="866.4">0</text>
<text x="1328.8" y="866.4">0</text>
<text x="1587.8" y="866.4">73</text>
<text x="318.4" y="882.1">50</text>
<text x="543.1" y="882.1">0</text>
<text x="811.1" y="882.1">0</text>
<text x="1070" y="882.1">0</text>
<text x="1328.8" y="882.1">0</text>
<text x="1587.8" y="882.1">50</text>
<text x="318.4" y="897.7">40</text>
<text x="543.1" y="897.7">40</text>
<text x="811.1" y="897.7">0</text>
<text x="1070" y="897.7">0</text>
<text x="1328.8" y="897.7">0</text>
<text x="1587.8" y="897.7">0</text>
<text x="318.4" y="913.4">34</text>
<text x="543.1" y="913.4">0</text>
<text x="811.1" y="913.4">0</text>
<text x="1070" y="913.4">0</text>
<text x="1328.8" y="913.4">0</text>
<text x="1587.8" y="913.4">34</text>
<text x="318.4" y="929.1">0</text>
<text x="543.1" y="929.1">0</text>
<text x="811.1" y="929.1">0</text>
<text x="1070" y="929.1">0</text>
<text x="1328.8" y="929.1">0</text>
<text x="1587.8" y="929.1">0</text>
<text x="318.4" y="1070.2">317</text>
<text x="543.1" y="1070.2">80</text>
<text x="811.1" y="1070.2">0</text>
<text x="1070" y="1070.2">80</text>
<text x="1328.8" y="1070.2">80</text>
<text x="1587.8" y="1070.2">77</text>
<text x="318.4" y="1085.9">300</text>
<text x="543.1" y="1085.9">67</text>
<text x="811.1" y="1085.9">59</text>
<text x="1070" y="1085.9">50</text>
<text x="1328.8" y="1085.9">62</text>
<text x="1587.8" y="1085.9">62</text>
<text x="318.4" y="1101.6">296</text>
<text x="543.1" y="1101.6">60</text>
<text x="811.1" y="1101.6">52</text>
<text x="1070" y="1101.6">70</text>
<text x="1328.8" y="1101.6">56</text>
<text x="1587.8" y="1101.6">58</text>
<text x="318.4" y="1117.3">243</text>
<text x="543.1" y="1117.3">42</text>
<text x="811.1" y="1117.3">70</text>
<text x="1070" y="1117.3">58</text>
<text x="1328.8" y="1117.3">40</text>
<text x="1587.8" y="1117.3">33</text>
<text x="318.4" y="1132.9">235</text>
<text x="543.1" y="1132.9">56</text>
<text x="811.1" y="1132.9">61</text>
<text x="1070" y="1132.9">49</text>
<text x="1328.8" y="1132.9">28</text>
<text x="1587.8" y="1132.9">41</text>
<text x="318.4" y="1148.6">170</text>
<text x="543.1" y="1148.6">44</text>
<text x="811.1" y="1148.6">46</text>
<text x="1070" y="1148.6">28</text>
<text x="1328.8" y="1148.6">0</text>
<text x="1587.8" y="1148.6">52</text>
<text x="318.4" y="1164.3">72</text>
<text x="543.1" y="1164.3">0</text>
<text x="811.1" y="1164.3">0</text>
<text x="1070" y="1164.3">0</text>
<text x="1328.8" y="1164.3">34</text>
<text x="1587.8" y="1164.3">38</text>
<text x="318.4" y="1180">59</text>
<text x="543.1" y="1180">0</text>
<text x="811.1" y="1180">0</text>
<text x="1070" y="1180">0</text>
<text x="1328.8" y="1180">59</text>
<text x="1587.8" y="1180">0</text>
<text x="318.4" y="1195.7">48</text>
<text x="543.1" y="1195.7">0</text>
<text x="811.1" y="1195.7">48</text>
<text x="1070" y="1195.7">0</text>
<text x="1328.8" y="1195.7">0</text>
<text x="1587.8" y="1195.7">0</text>
<text x="318.4" y="1211.3">40</text>
<text x="543.1" y="1211.3">0</text>
<text x="811.1" y="1211.3">0</text>
<text x="1070" y="1211.3">0</text>
<text x="1328.8" y="1211.3">0</text>
<text x="1587.8" y="1211.3">40</text>
<text x="318.4" y="1227">34</text>
<text x="543.1" y="1227">34</text>
<text x="811.1" y="1227">0</text>
<text x="1070" y="1227">0</text>
<text x="1328.8" y="1227">0</text>
<text x="1587.8" y="1227">0</text>
<text x="318.4" y="1242.7">33</text>
<text x="543.1" y="1242.7">0</text>
<text x="811.1" y="1242.7">0</text>
<text x="1070" y="1242.7">0</text>
<text x="1328.8" y="1242.7">33</text>
<text x="1587.8" y="1242.7">0</text>
<text x="318.4" y="1368.1">365</text>
<text x="543.1" y="1368.1">80</text>
<text x="811.1" y="1368.1">74</text>
<text x="1070" y="1368.1">80</text>
<text x="1328.8" y="1368.1">80</text>
<text x="1587.8" y="1368.1">51</text>
<text x="318.4" y="1383.8">240</text>
<text x="543.1" y="1383.8">0</text>
<text x="811.1" y="1383.8">58</text>
<text x="1070" y="1383.8">66</text>
<text x="1328.8" y="1383.8">39</text>
<text x="1587.8" y="1383.8">77</text>
<text x="318.4" y="1399.5">217</text>
<text x="543.1" y="1399.5">42</text>
<text x="811.1" y="1399.5">50</text>
<text x="1070" y="1399.5">42</text>
<text x="1328.8" y="1399.5">54</text>
<text x="1587.8" y="1399.5">29</text>
<text x="318.4" y="1415.2">215</text>
<text x="543.1" y="1415.2">63</text>
<text x="811.1" y="1415.2">65</text>
<text x="1070" y="1415.2">0</text>
<text x="1328.8" y="1415.2">48</text>
<text x="1587.8" y="1415.2">39</text>
<text x="318.4" y="1430.9">173</text>
<text x="543.1" y="1430.9">55</text>
<text x="811.1" y="1430.9">30</text>
<text x="1070" y="1430.9">27</text>
<text x="1328.8" y="1430.9">12</text>
<text x="1587.8" y="1430.9">49</text>
<text x="318.4" y="1446.5">137</text>
<text x="543.1" y="1446.5">0</text>
<text x="811.1" y="1446.5">0</text>
<text x="1070" y="1446.5">54</text>
<text x="1328.8" y="1446.5">48</text>
<text x="1587.8" y="1446.5">35</text>
<text x="318.4" y="1462.2">121</text>
<text x="543.1" y="1462.2">33</text>
<text x="811.1" y="1462.2">23</text>
<text x="1070" y="1462.2">30</text>
<text x="1328.8" y="1462.2">9</text>
<text x="1587.8" y="1462.2">26</text>
<text x="318.4" y="1477.9">105</text>
<text x="543.1" y="1477.9">27</text>
<text x="811.1" y="1477.9">41</text>
<text x="1070" y="1477.9">19</text>
<text x="1328.8" y="1477.9">18</text>
<text x="1587.8" y="1477.9">0</text>
<text x="318.4" y="1493.6">102</text>
<text x="543.1" y="1493.6">0</text>
<text x="811.1" y="1493.6">26</text>
<text x="1070" y="1493.6">16</text>
<text x="1328.8" y="1493.6">38</text>
<text x="1587.8" y="1493.6">22</text>
<text x="318.4" y="1509.3">95</text>
<text x="543.1" y="1509.3">30</text>
<text x="811.1" y="1509.3">32</text>
<text x="1070" y="1509.3">8</text>
<text x="1328.8" y="1509.3">9</text>
<text x="1587.8" y="1509.3">16</text>
<text x="318.4" y="1524.9">94</text>
<text x="543.1" y="1524.9">0</text>
<text x="811.1" y="1524.9">26</text>
<text x="1070" y="1524.9">25</text>
<text x="1328.8" y="1524.9">5</text>
<text x="1587.8" y="1524.9">38</text>
<text x="318.4" y="1540.6">78</text>
<text x="543.1" y="1540.6">16</text>
<text x="811.1" y="1540.6">0</text>
<text x="1070" y="1540.6">19</text>
<text x="1328.8" y="1540.6">17</text>
<text x="1587.8" y="1540.6">26</text>
<text x="318.4" y="1556.3">70</text>
<text x="543.1" y="1556.3">14</text>
<text x="811.1" y="1556.3">19</text>
<text x="1070" y="1556.3">10</text>
<text x="1328.8" y="1556.3">25</text>
<text x="1587.8" y="1556.3">2</text>
<text x="318.4" y="1572">58</text>
<text x="543.1" y="1572">58</text>
<text x="811.1" y="1572">0</text>
<text x="1070" y="1572">0</text>
<text x="1328.8" y="1572">0</text>
<text x="1587.8" y="1572">0</text>
<text x="318.4" y="1587.7">48</text>
<text x="543.1" y="1587.7">0</text>
<text x="811.1" y="1587.7">0</text>
<text x="1070" y="1587.7">48</text>
<text x="1328.8" y="1587.7">0</text>
<text x="1587.8" y="1587.7">0</text>
<text x="318.4" y="1603.3">47</text>
<text x="543.1" y="1603.3">0</text>
<text x="811.1" y="1603.3">0</text>
<text x="1070" y="1603.3">0</text>
<text x="1328.8" y="1603.3">47</text>
<text x="1587.8" y="1603.3">0</text>
<text x="318.4" y="1619">41</text>
<text x="543.1" y="1619">0</text>
<text x="811.1" y="1619">0</text>
<text x="1070" y="1619">0</text>
<text x="1328.8" y="1619">0</text>
<text x="1587.8" y="1619">41</text>
<text x="318.4" y="1634.7">41</text>
<text x="543.1" y="1634.7">12</text>
<text x="811.1" y="1634.7">0</text>
<text x="1070" y="1634.7">8</text>
<text x="1328.8" y="1634.7">21</text>
<text x="1587.8" y="1634.7">0</text>
<text x="318.4" y="1650.4">38</text>
<text x="543.1" y="1650.4">10</text>
<text x="811.1" y="1650.4">0</text>
<text x="1070" y="1650.4">24</text>
<text x="1328.8" y="1650.4">4</text>
<text x="1587.8" y="1650.4">0</text>
<text x="318.4" y="1666.1">32</text>
<text x="543.1" y="1666.1">32</text>
<text x="811.1" y="1666.1">0</text>
<text x="1070" y="1666.1">0</text>
<text x="1328.8" y="1666.1">0</text>
<text x="1587.8" y="1666.1">0</text>
<text x="318.4" y="1681.7">31</text>
<text x="543.1" y="1681.7">5</text>
<text x="811.1" y="1681.7">0</text>
<text x="1070" y="1681.7">0</text>
<text x="1328.8" y="1681.7">7</text>
<text x="1587.8" y="1681.7">19</text>
<text x="318.4" y="1697.4">25</text>
<text x="543.1" y="1697.4">2</text>
<text x="811.1" y="1697.4">0</text>
<text x="1070" y="1697.4">0</text>
<text x="1328.8" y="1697.4">0</text>
<text x="1587.8" y="1697.4">23</text>
<text x="318.4" y="1713.1">19</text>
<text x="543.1" y="1713.1">3</text>
<text x="811.1" y="1713.1">11</text>
<text x="1070" y="1713.1">0</text>
<text x="1328.8" y="1713.1">5</text>
<text x="1587.8" y="1713.1">0</text>
<text x="318.4" y="1726.8">16</text>
<text x="543.1" y="1726.8">10</text>
<text x="811.1" y="1726.8">0</text>
<text x="1070" y="1726.8">0</text>
<text x="1328.8" y="1726.8">6</text>
<text x="1587.8" y="1726.8">0</text>
<text x="318.4" y="1742.5">7</text>
<text x="543.1" y="1742.5">0</text>
<text x="811.1" y="1742.5">0</text>
<text x="1070" y="1742.5">0</text>
<text x="1328.8" y="1742.5">7</text>
<text x="1587.8" y="1742.5">0</text>
<text x="318.4" y="1758.2">5</text>
<text x="543.1" y="1758.2">5</text>
<text x="811.1" y="1758.2">0</text>
<text x="1070" y="1758.2">0</text>
<text x="1328.8" y="1758.2">0</text>
<text x="1587.8" y="1758.2">0</text>
<text x="318.4" y="1773.8">3</text>
<text x="543.1" y="1773.8">0</text>
<text x="811.1" y="1773.8">0</text>
<text x="1070" y="1773.8">0</text>
<text x="1328.8" y="1773.8">0</text>
<text x="1587.8" y="1773.8">3</text>
<text x="318.4" y="1883.6">306</text>
<text x="543.1" y="1883.6">80</text>
<text x="811.1" y="1883.6">66</text>
<text x="1070" y="1883.6">76</text>
<text x="1328.8" y="1883.6">54</text>
<text x="1587.8" y="1883.6">30</text>
<text x="318.4" y="1899.3">276</text>
<text x="543.1" y="1899.3">41</text>
<text x="811.1" y="1899.3">45</text>
<text x="1070" y="1899.3">71</text>
<text x="1328.8" y="1899.3">63</text>
<text x="1587.8" y="1899.3">56</text>
<text x="318.4" y="1915">240</text>
<text x="543.1" y="1915">65</text>
<text x="811.1" y="1915">80</text>
<text x="1070" y="1915">0</text>
<text x="1328.8" y="1915">15</text>
<text x="1587.8" y="1915">80</text>
<text x="318.4" y="1930.6">196</text>
<text x="543.1" y="1930.6">50</text>
<text x="811.1" y="1930.6">36</text>
<text x="1070" y="1930.6">42</text>
<text x="1328.8" y="1930.6">23</text>
<text x="1587.8" y="1930.6">45</text>
<text x="318.4" y="1946.3">177</text>
<text x="543.1" y="1946.3">49</text>
<text x="811.1" y="1946.3">30</text>
<text x="1070" y="1946.3">47</text>
<text x="1328.8" y="1946.3">51</text>
<text x="1587.8" y="1946.3">0</text>
<text x="318.4" y="1962">147</text>
<text x="543.1" y="1962">0</text>
<text x="811.1" y="1962">0</text>
<text x="1070" y="1962">0</text>
<text x="1328.8" y="1962">77</text>
<text x="1587.8" y="1962">70</text>
<text x="318.4" y="1977.7">136</text>
<text x="543.1" y="1977.7">23</text>
<text x="811.1" y="1977.7">21</text>
<text x="1070" y="1977.7">0</text>
<text x="1328.8" y="1977.7">44</text>
<text x="1587.8" y="1977.7">48</text>
<text x="318.4" y="1993.4">132</text>
<text x="543.1" y="1993.4">21</text>
<text x="811.1" y="1993.4">15</text>
<text x="1070" y="1993.4">40</text>
<text x="1328.8" y="1993.4">40</text>
<text x="1587.8" y="1993.4">16</text>
<text x="318.4" y="2009">116</text>
<text x="543.1" y="2009">29</text>
<text x="811.1" y="2009">15</text>
<text x="1070" y="2009">31</text>
<text x="1328.8" y="2009">7</text>
<text x="1587.8" y="2009">34</text>
<text x="318.4" y="2024.7">109</text>
<text x="543.1" y="2024.7">0</text>
<text x="811.1" y="2024.7">14</text>
<text x="1070" y="2024.7">42</text>
<text x="1328.8" y="2024.7">17</text>
<text x="1587.8" y="2024.7">36</text>
<text x="318.4" y="2040.4">83</text>
<text x="543.1" y="2040.4">49</text>
<text x="811.1" y="2040.4">19</text>
<text x="1070" y="2040.4">0</text>
<text x="1328.8" y="2040.4">15</text>
<text x="1587.8" y="2040.4">0</text>
<text x="318.4" y="2056.1">82</text>
<text x="543.1" y="2056.1">27</text>
<text x="811.1" y="2056.1">22</text>
<text x="1070" y="2056.1">29</text>
<text x="1328.8" y="2056.1">4</text>
<text x="1587.8" y="2056.1">0</text>
<text x="318.4" y="2071.8">64</text>
<text x="543.1" y="2071.8">0</text>
<text x="811.1" y="2071.8">64</text>
<text x="1070" y="2071.8">0</text>
<text x="1328.8" y="2071.8">0</text>
<text x="1587.8" y="2071.8">0</text>
<text x="318.4" y="2087.4">51</text>
<text x="543.1" y="2087.4">0</text>
<text x="811.1" y="2087.4">0</text>
<text x="1070" y="2087.4">32</text>
<text x="1328.8" y="2087.4">0</text>
<text x="1587.8" y="2087.4">19</text>
<text x="318.4" y="2103.1">50</text>
<text x="543.1" y="2103.1">0</text>
<text x="811.1" y="2103.1">50</text>
<text x="1070" y="2103.1">0</text>
<text x="1328.8" y="2103.1">0</text>
<text x="1587.8" y="2103.1">0</text>
<text x="318.4" y="2118.8">48</text>
<text x="543.1" y="2118.8">0</text>
<text x="811.1" y="2118.8">20</text>
<text x="1070" y="2118.8">28</text>
<text x="1328.8" y="2118.8">0</text>
<text x="1587.8" y="2118.8">0</text>
<text x="318.4" y="2134.5">48</text>
<text x="543.1" y="2134.5">0</text>
<text x="811.1" y="2134.5">0</text>
<text x="1070" y="2134.5">0</text>
<text x="1328.8" y="2134.5">48</text>
<text x="1587.8" y="2134.5">0</text>
<text x="318.4" y="2150.2">30</text>
<text x="543.1" y="2150.2">22</text>
<text x="811.1" y="2150.2">0</text>
<text x="1070" y="2150.2">0</text>
<text x="1328.8" y="2150.2">0</text>
<text x="1587.8" y="2150.2">8</text>
<text x="318.4" y="2165.8">19</text>
<text x="543.1" y="2165.8">0</text>
<text x="811.1" y="2165.8">0</text>
<text x="1070" y="2165.8">0</text>
<text x="1328.8" y="2165.8">19</text>
<text x="1587.8" y="2165.8">0</text>
<text x="318.4" y="2181.5">6</text>
<text x="543.1" y="2181.5">0</text>
<text x="811.1" y="2181.5">0</text>
<text x="1070" y="2181.5">0</text>
<text x="1328.8" y="2181.5">0</text>
<text x="1587.8" y="2181.5">6</text>
<text x="318.4" y="2259.9">237</text>
<text x="543.1" y="2259.9">77</text>
<text x="811.1" y="2259.9">80</text>
<text x="1070" y="2259.9">80</text>
<text x="1328.8" y="2259.9">0</text>
<text x="1587.8" y="2259.9">0</text>
<text x="318.4" y="2275.6">73</text>
<text x="543.1" y="2275.6">73</text>
<text x="811.1" y="2275.6">0</text>
<text x="1070" y="2275.6">0</text>
<text x="1328.8" y="2275.6">0</text>
<text x="1587.8" y="2275.6">0</text>
<text x="318.4" y="2354">343</text>
<text x="543.1" y="2354">51</text>
<text x="811.1" y="2354">65</text>
<text x="1070" y="2354">73</text>
<text x="1328.8" y="2354">80</text>
<text x="1587.8" y="2354">74</text>
<text x="318.4" y="2369.7">315</text>
<text x="543.1" y="2369.7">44</text>
<text x="811.1" y="2369.7">80</text>
<text x="1070" y="2369.7">74</text>
<text x="1328.8" y="2369.7">67</text>
<text x="1587.8" y="2369.7">50</text>
<text x="318.4" y="2385.4">200</text>
<text x="543.1" y="2385.4">74</text>
<text x="811.1" y="2385.4">63</text>
<text x="1070" y="2385.4">0</text>
<text x="1328.8" y="2385.4">63</text>
<text x="1587.8" y="2385.4">0</text>
<text x="318.4" y="2401">154</text>
<text x="543.1" y="2401">63</text>
<text x="811.1" y="2401">28</text>
<text x="1070" y="2401">63</text>
<text x="1328.8" y="2401">0</text>
<text x="1587.8" y="2401">0</text>
<text x="318.4" y="2416.7">112</text>
<text x="543.1" y="2416.7">57</text>
<text x="811.1" y="2416.7">55</text>
<text x="1070" y="2416.7">0</text>
<text x="1328.8" y="2416.7">0</text>
<text x="1587.8" y="2416.7">0</text>
<text x="318.4" y="2432.4">77</text>
<text x="543.1" y="2432.4">33</text>
<text x="811.1" y="2432.4">44</text>
<text x="1070" y="2432.4">0</text>
<text x="1328.8" y="2432.4">0</text>
<text x="1587.8" y="2432.4">0</text>
<text x="318.4" y="2448.1">64</text>
<text x="543.1" y="2448.1">0</text>
<text x="811.1" y="2448.1">0</text>
<text x="1070" y="2448.1">0</text>
<text x="1328.8" y="2448.1">0</text>
<text x="1587.8" y="2448.1">64</text>
</g>
<g class="t">
<text x="1699.8" y="286.2">377</text>
<text x="1699.8" y="301.9">291</text>
<text x="1699.8" y="317.6">266</text>
<text x="1699.8" y="333.3">237</text>
<text x="1699.8" y="348.9">155</text>
<text x="1699.8" y="364.6">151</text>
<text x="1699.8" y="380.3">126</text>
<text x="1699.8" y="396">98</text>
<text x="1699.8" y="411.7">74</text>
<text x="1699.8" y="427.3">73</text>
<text x="1699.8" y="443">20</text>
<text x="1699.8" y="458.7">18</text>
<text x="1699.8" y="474.4">11</text>
<text x="1699.8" y="646.9">55</text>
<text x="1699.8" y="662.5">47</text>
<text x="1699.8" y="678.2">39</text>
<text x="1699.8" y="756.6">360</text>
<text x="1699.8" y="772.3">224</text>
<text x="1699.8" y="788">176</text>
<text x="1699.8" y="803.7">171</text>
<text x="1699.8" y="819.3">123</text>
<text x="1699.8" y="835">123</text>
<text x="1699.8" y="850.7">118</text>
<text x="1699.8" y="866.4">73</text>
<text x="1699.8" y="882.1">50</text>
<text x="1699.8" y="897.7">40</text>
<text x="1699.8" y="913.4">34</text>
<text x="1699.8" y="929.1">0</text>
<text x="1699.8" y="1070.2">317</text>
<text x="1699.8" y="1085.9">300</text>
<text x="1699.8" y="1101.6">296</text>
<text x="1699.8" y="1117.3">243</text>
<text x="1699.8" y="1132.9">235</text>
<text x="1699.8" y="1148.6">170</text>
<text x="1699.8" y="1164.3">72</text>
<text x="1699.8" y="1180">59</text>
<text x="1699.8" y="1195.7">48</text>
<text x="1699.8" y="1211.3">40</text>
<text x="1699.8" y="1227">34</text>
<text x="1699.8" y="1242.7">33</text>
<text x="1699.8" y="1368.1">365</text>
<text x="1699.8" y="1383.8">240</text>
<text x="1699.8" y="1399.5">217</text>
<text x="1699.8" y="1415.2">215</text>
<text x="1699.8" y="1430.9">173</text>
<text x="1699.8" y="1446.5">137</text>
<text x="1699.8" y="1462.2">121</text>
<text x="1699.8" y="1477.9">105</text>
<text x="1699.8" y="1493.6">102</text>
<text x="1699.8" y="1509.3">95</text>
<text x="1699.8" y="1524.9">94</text>
<text x="1699.8" y="1540.6">78</text>
<text x="1699.8" y="1556.3">70</text>
<text x="1699.8" y="1572">58</text>
<text x="1699.8" y="1587.7">48</text>
<text x="1699.8" y="1603.3">47</text>
<text x="1699.8" y="1619">41</text>
<text x="1699.8" y="1634.7">41</text>
<text x="1699.8" y="1650.4">38</text>
<text x="1699.8" y="1666.1">32</text>
<text x="1699.8" y="1681.7">31</text>
<text x="1699.8" y="1697.4">25</text>
<text x="1699.8" y="1713.1">19</text>
<text x="1699.8" y="1742.5">7</text>
<text x="1699.8" y="1758.2">5</text>
<text x="1699.8" y="1773.8">3</text>
<text x="1699.8" y="1883.6">306</text>
<text x="1699.8" y="1899.3">276</text>
<text x="1699.8" y="1915">240</text>
<text x="1699.8" y="1930.6">196</text>
<text x="1699.8" y="1946.3">177</text>
<text x="1699.8" y="1962">147</text>
<text x="1699.8" y="1977.7">136</text>
<text x="1699.8" y="1993.4">132</text>
<text x="1699.8" y="2009">116</text>
<text x="1699.8" y="2024.7">109</text>
<text x="1699.8" y="2040.4">83</text>
<text x="1699.8" y="2056.1">82</text>
<text x="1699.8" y="2071.8">64</text>
<text x="1699.8" y="2087.4">51</text>
<text x="1699.8" y="2103.1">50</text>
<text x="1699.8" y="2118.8">48</text>
<text x="1699.8" y="2134.5">48</text>
<text x="1699.8" y="2150.2">30</text>
<text x="1699.8" y="2165.8">19</text>
<text x="1699.8" y="2181.5">6</text>
<text x="1699.8" y="2259.9">237</text>
<text x="1699.8" y="2275.6">73</text>
<text x="1699.8" y="2354">343</text>
<text x="1699.8" y="2369.7">315</text>
<text x="1699.8" y="2385.4">200</text>
<text x="1699.8" y="2401">154</text>
<text x="1699.8" y="2416.7">112</text>
<text x="1699.8" y="2432.4">77</text>
<text x="1699.8" y="2448.1">64</text>
</g>
<g class="nc" clip-path="url(#cs)">
<text x="89.5" y="1723.8">21</text>
<text x="119.1" y="1723.8">328</text>
</g>
<g class="nlc" clip-path="url(#cs)">
<text x="136.8" y="1723.8">Iago Sierlecki</text>
</g>
<g class="tc" clip-path="url(#cs)">
<text x="1699.8" y="1723.8">16</text>
</g>
<g class="lb">
<text x="463.5" y="207.5">Apertura</text>
<text x="463.5" y="223.2">1ra fecha</text>
<text x="731.5" y="223.2">2da fecha</text>
<text x="990.4" y="207.5">Apertura</text>
<text x="990.4" y="223.2">3ra fecha</text>
<text x="1249.2" y="207.5">Apertura</text>
<text x="1249.2" y="223.2">4ta fecha</text>
<text x="1508.2" y="207.5">Apertura</text>
<text x="1508.2" y="223.2">5ta fecha</text>
</g>
<g class="lbl">
<text x="962.6" y="191.6">S RMCP</text>
</g>
</svg>
</body></html>
